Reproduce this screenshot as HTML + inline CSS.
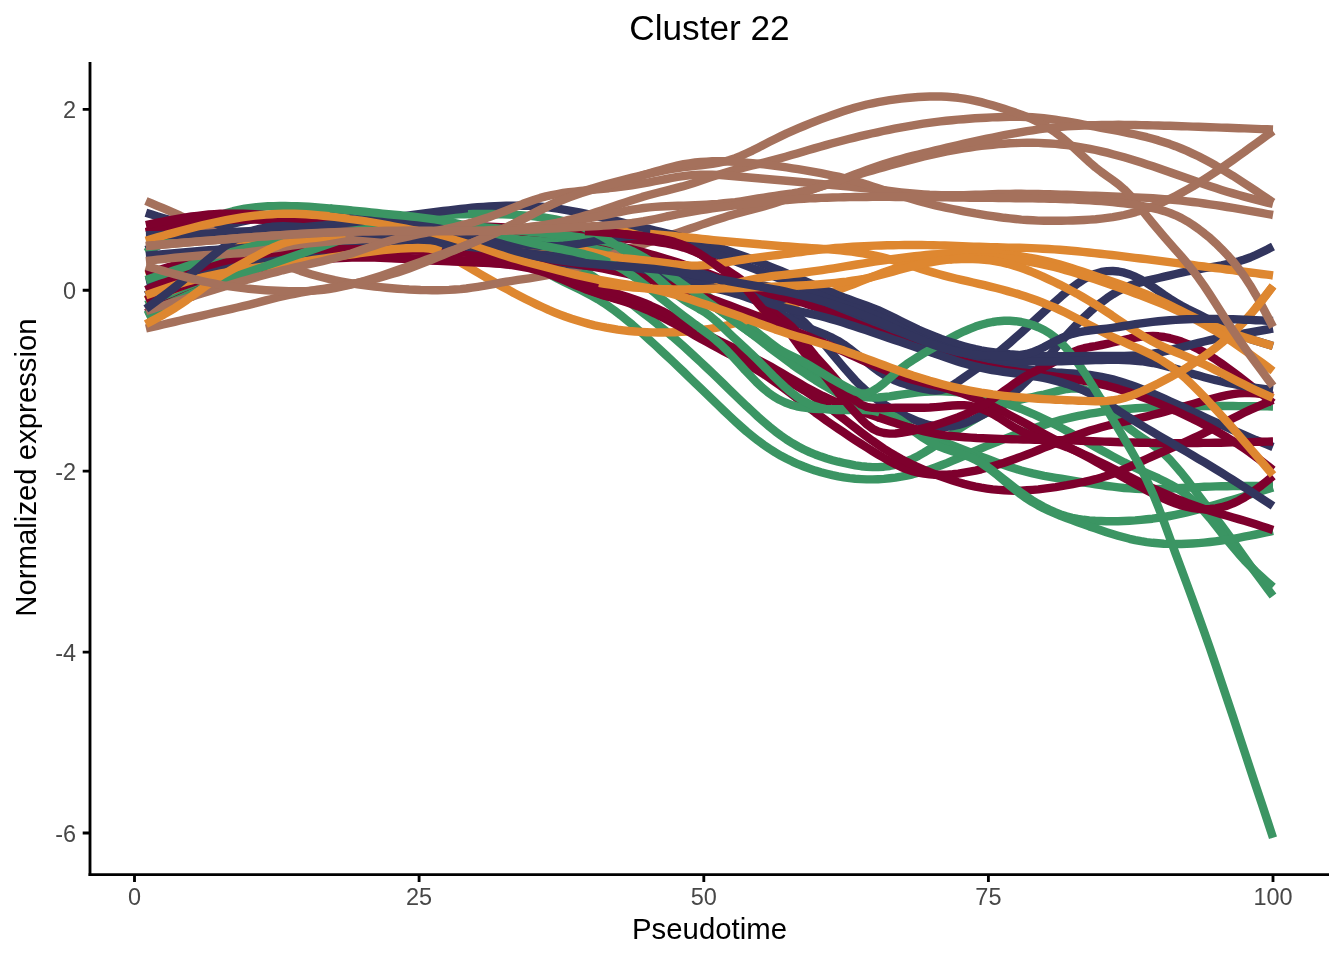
<!DOCTYPE html>
<html><head><meta charset="utf-8"><title>Cluster 22</title>
<style>
html,body{margin:0;padding:0;background:#fff;}
svg{display:block;}
text{font-family:"Liberation Sans",sans-serif;}
.tk{font-size:23.47px;fill:#474747;}
.ax{font-size:29.33px;fill:#000;}
.ln{fill:none;stroke-width:8.4;stroke-linejoin:round;stroke-linecap:butt;}
.b{stroke:#A5715C}.o{stroke:#DE8730}.n{stroke:#32355E}.c{stroke:#7E002D}.g{stroke:#3B9563}
</style></head><body>
<svg width="1344" height="960" viewBox="0 0 1344 960">
<rect width="1344" height="960" fill="#fff"/>
<text id="title" x="709.5" y="40" text-anchor="middle" font-size="35.2" fill="#000">Cluster 22</text>
<g id="curves">
<path class="ln g" d="M145.9 316.0 151.6 313.3 157.3 310.5 163.1 307.7 168.8 305.0 174.5 302.3 180.2 299.6 185.9 297.1 191.7 294.5 197.4 292.1 203.1 289.7 208.8 287.5 214.6 285.2 220.3 283.1 226.0 281.0 231.7 278.9 237.4 276.9 243.2 274.9 248.9 272.9 254.6 270.8 260.3 268.8 266.0 266.8 271.8 264.8 277.5 262.8 283.2 260.8 288.9 258.8 294.7 256.9 300.4 254.9 306.1 252.9 311.8 250.9 317.5 249.0 323.3 247.1 329.0 245.2 334.7 243.3 340.4 241.6 346.1 239.9 351.9 238.2 357.6 236.7 363.3 235.2 369.0 233.9 374.8 232.7 380.5 231.5 386.2 230.6 391.9 229.7 397.6 229.1 403.4 228.5 409.1 228.1 414.8 227.9 420.5 227.8 426.2 227.8 432.0 228.0 437.7 228.4 443.4 228.9 449.1 229.6 454.9 230.4 460.6 231.5 466.3 232.7 472.0 234.2 477.7 235.9 483.5 237.9 489.2 240.1 494.9 242.5 500.6 245.3 506.3 248.4 512.1 251.6 517.8 255.1 523.5 258.6 529.2 262.2 534.9 265.8 540.7 269.3 546.4 272.6 552.1 275.8 557.8 278.8 563.6 281.6 569.3 284.4 575.0 287.2 580.7 290.0 586.4 292.9 592.2 296.0 597.9 299.3 603.6 302.9 609.3 306.8 615.0 310.9 620.8 315.3 626.5 319.9 632.2 324.6 637.9 329.6 643.7 334.6 649.4 339.8 655.1 345.0 660.8 350.3 666.5 355.6 672.3 361.0 678.0 366.5 683.7 371.9 689.4 377.4 695.1 382.9 700.9 388.5 706.6 394.0 712.3 399.6 718.0 405.1 723.8 410.6 729.5 416.1 735.2 421.4 740.9 426.5 746.6 431.5 752.4 436.2 758.1 440.7 763.8 444.9 769.5 448.8 775.2 452.4 781.0 455.8 786.7 458.8 792.4 461.6 798.1 464.2 803.9 466.5 809.6 468.6 815.3 470.6 821.0 472.3 826.7 473.8 832.5 475.2 838.2 476.4 843.9 477.3 849.6 478.1 855.3 478.7 861.1 479.1 866.8 479.4 872.5 479.4 878.2 479.2 884.0 478.9 889.7 478.3 895.4 477.6 901.1 476.7 906.8 475.6 912.6 474.3 918.3 472.8 924.0 471.2 929.7 469.4 935.4 467.4 941.2 465.3 946.9 463.1 952.6 460.7 958.3 458.3 964.0 455.8 969.8 453.3 975.5 450.9 981.2 448.4 986.9 446.0 992.7 443.7 998.4 441.3 1004.1 439.1 1009.8 436.9 1015.5 434.7 1021.3 432.6 1027.0 430.6 1032.7 428.6 1038.4 426.7 1044.1 424.9 1049.9 423.1 1055.6 421.5 1061.3 419.9 1067.0 418.5 1072.8 417.1 1078.5 415.9 1084.2 414.8 1089.9 413.7 1095.6 412.8 1101.4 411.9 1107.1 411.1 1112.8 410.4 1118.5 409.8 1124.2 409.3 1130.0 408.8 1135.7 408.3 1141.4 407.9 1147.1 407.6 1152.9 407.2 1158.6 407.0 1164.3 406.7 1170.0 406.6 1175.7 406.4 1181.5 406.3 1187.2 406.1 1192.9 406.1 1198.6 406.0 1204.3 406.0 1210.1 406.0 1215.8 405.9 1221.5 406.0 1227.2 406.0 1233.0 406.0 1238.7 406.1 1244.4 406.1 1250.1 406.2 1255.8 406.3 1261.6 406.3 1267.3 406.4 1273.0 406.5"/>
<path class="ln g" d="M145.9 300.0 151.6 297.3 157.3 294.6 163.1 291.9 168.8 289.2 174.5 286.5 180.2 283.8 185.9 281.2 191.7 278.6 197.4 276.0 203.1 273.5 208.8 271.0 214.6 268.6 220.3 266.2 226.0 263.9 231.7 261.7 237.4 259.5 243.2 257.4 248.9 255.4 254.6 253.4 260.3 251.6 266.0 249.8 271.8 248.1 277.5 246.5 283.2 245.0 288.9 243.5 294.7 242.1 300.4 240.8 306.1 239.5 311.8 238.3 317.5 237.2 323.3 236.1 329.0 235.2 334.7 234.2 340.4 233.3 346.1 232.5 351.9 231.8 357.6 231.0 363.3 230.4 369.0 229.8 374.8 229.3 380.5 228.8 386.2 228.3 391.9 228.0 397.6 227.7 403.4 227.5 409.1 227.3 414.8 227.2 420.5 227.1 426.2 227.2 432.0 227.2 437.7 227.4 443.4 227.6 449.1 227.9 454.9 228.3 460.6 228.8 466.3 229.3 472.0 230.0 477.7 230.7 483.5 231.5 489.2 232.5 494.9 233.6 500.6 234.8 506.3 236.2 512.1 237.7 517.8 239.3 523.5 241.1 529.2 243.1 534.9 245.2 540.7 247.6 546.4 250.0 552.1 252.7 557.8 255.5 563.6 258.4 569.3 261.6 575.0 264.9 580.7 268.4 586.4 272.0 592.2 275.7 597.9 279.6 603.6 283.6 609.3 287.6 615.0 291.8 620.8 296.0 626.5 300.2 632.2 304.5 637.9 308.9 643.7 313.3 649.4 317.7 655.1 322.3 660.8 326.9 666.5 331.6 672.3 336.4 678.0 341.4 683.7 346.4 689.4 351.6 695.1 356.8 700.9 362.2 706.6 367.6 712.3 373.1 718.0 378.6 723.8 384.1 729.5 389.7 735.2 395.2 740.9 400.7 746.6 406.2 752.4 411.5 758.1 416.8 763.8 421.8 769.5 426.7 775.2 431.3 781.0 435.6 786.7 439.6 792.4 443.2 798.1 446.5 803.9 449.5 809.6 452.1 815.3 454.5 821.0 456.6 826.7 458.5 832.5 460.2 838.2 461.7 843.9 463.0 849.6 464.2 855.3 465.3 861.1 466.2 866.8 466.8 872.5 467.1 878.2 467.1 884.0 466.7 889.7 466.0 895.4 464.8 901.1 463.2 906.8 461.2 912.6 458.8 918.3 455.9 924.0 452.7 929.7 449.2 935.4 445.4 941.2 441.4 946.9 437.4 952.6 433.4 958.3 429.5 964.0 425.8 969.8 422.2 975.5 418.8 981.2 415.6 986.9 412.5 992.7 409.7 998.4 407.1 1004.1 404.8 1009.8 402.7 1015.5 401.0 1021.3 399.5 1027.0 398.2 1032.7 397.0 1038.4 395.7 1044.1 394.5 1049.9 393.0 1055.6 391.5 1061.3 390.1 1067.0 389.0 1072.8 388.4 1078.5 388.5 1084.2 389.5 1089.9 391.6 1095.6 395.0 1101.4 399.8 1107.1 405.7 1112.8 412.1 1118.5 418.4 1124.2 424.1 1130.0 429.0 1135.7 433.2 1141.4 437.1 1147.1 440.9 1152.9 444.8 1158.6 449.1 1164.3 454.1 1170.0 459.8 1175.7 466.2 1181.5 473.0 1187.2 480.2 1192.9 487.7 1198.6 495.2 1204.3 502.7 1210.1 510.1 1215.8 517.7 1221.5 525.3 1227.2 533.1 1233.0 541.0 1238.7 549.1 1244.4 557.2 1250.1 565.2 1255.8 573.0 1261.6 580.7 1267.3 588.4 1273.0 596.0"/>
<path class="ln n" d="M145.9 295.1 151.6 292.1 157.3 289.2 163.1 286.2 168.8 283.3 174.5 280.5 180.2 277.6 185.9 274.9 191.7 272.2 197.4 269.5 203.1 267.0 208.8 264.5 214.6 262.1 220.3 259.9 226.0 257.8 231.7 255.7 237.4 253.8 243.2 252.0 248.9 250.3 254.6 248.7 260.3 247.3 266.0 245.9 271.8 244.7 277.5 243.5 283.2 242.5 288.9 241.5 294.7 240.7 300.4 240.0 306.1 239.3 311.8 238.8 317.5 238.3 323.3 237.9 329.0 237.7 334.7 237.4 340.4 237.3 346.1 237.2 351.9 237.1 357.6 237.1 363.3 237.2 369.0 237.2 374.8 237.3 380.5 237.5 386.2 237.6 391.9 237.8 397.6 237.9 403.4 238.1 409.1 238.3 414.8 238.4 420.5 238.6 426.2 238.8 432.0 238.9 437.7 239.1 443.4 239.3 449.1 239.5 454.9 239.7 460.6 240.0 466.3 240.2 472.0 240.5 477.7 240.7 483.5 241.0 489.2 241.3 494.9 241.7 500.6 242.0 506.3 242.4 512.1 242.8 517.8 243.3 523.5 243.8 529.2 244.3 534.9 244.8 540.7 245.5 546.4 246.1 552.1 246.8 557.8 247.6 563.6 248.4 569.3 249.2 575.0 250.2 580.7 251.1 586.4 252.2 592.2 253.3 597.9 254.5 603.6 255.8 609.3 257.2 615.0 258.6 620.8 260.0 626.5 261.5 632.2 263.1 637.9 264.6 643.7 266.2 649.4 267.8 655.1 269.3 660.8 270.9 666.5 272.4 672.3 273.8 678.0 275.2 683.7 276.6 689.4 277.9 695.1 279.1 700.9 280.2 706.6 281.2 712.3 282.1 718.0 283.1 723.8 284.0 729.5 285.1 735.2 286.2 740.9 287.5 746.6 288.9 752.4 290.6 758.1 292.5 763.8 294.7 769.5 297.2 775.2 300.2 781.0 303.5 786.7 307.3 792.4 311.5 798.1 316.3 803.9 321.7 809.6 327.5 815.3 333.8 821.0 340.4 826.7 347.1 832.5 354.0 838.2 360.9 843.9 367.6 849.6 374.1 855.3 380.4 861.1 386.2 866.8 391.4 872.5 396.2 878.2 400.5 884.0 404.3 889.7 407.8 895.4 411.0 901.1 413.9 906.8 416.6 912.6 419.1 918.3 421.5 924.0 423.5 929.7 425.2 935.4 426.3 941.2 426.9 946.9 426.9 952.6 426.2 958.3 425.0 964.0 423.2 969.8 421.0 975.5 418.5 981.2 415.6 986.9 412.5 992.7 409.0 998.4 405.2 1004.1 401.0 1009.8 396.4 1015.5 391.4 1021.3 386.1 1027.0 380.5 1032.7 374.5 1038.4 368.2 1044.1 361.6 1049.9 354.9 1055.6 348.1 1061.3 341.4 1067.0 334.9 1072.8 328.6 1078.5 322.7 1084.2 317.1 1089.9 311.8 1095.6 306.9 1101.4 302.3 1107.1 298.1 1112.8 294.3 1118.5 290.9 1124.2 288.0 1130.0 285.6 1135.7 283.7 1141.4 282.1 1147.1 280.7 1152.9 279.3 1158.6 278.0 1164.3 276.6 1170.0 275.3 1175.7 274.0 1181.5 272.7 1187.2 271.5 1192.9 270.3 1198.6 269.3 1204.3 268.2 1210.1 267.3 1215.8 266.3 1221.5 265.3 1227.2 264.1 1233.0 262.8 1238.7 261.3 1244.4 259.5 1250.1 257.5 1255.8 255.0 1261.6 252.3 1267.3 249.5 1273.0 246.5"/>
<path class="ln g" d="M145.9 290.0 151.6 288.1 157.3 286.2 163.1 284.3 168.8 282.3 174.5 280.4 180.2 278.5 185.9 276.7 191.7 274.8 197.4 272.9 203.1 271.1 208.8 269.3 214.6 267.5 220.3 265.7 226.0 264.0 231.7 262.3 237.4 260.6 243.2 259.0 248.9 257.4 254.6 255.8 260.3 254.3 266.0 252.8 271.8 251.4 277.5 250.0 283.2 248.6 288.9 247.3 294.7 246.1 300.4 244.9 306.1 243.8 311.8 242.7 317.5 241.7 323.3 240.7 329.0 239.8 334.7 239.0 340.4 238.2 346.1 237.4 351.9 236.7 357.6 236.1 363.3 235.5 369.0 234.9 374.8 234.4 380.5 234.0 386.2 233.6 391.9 233.2 397.6 232.9 403.4 232.6 409.1 232.4 414.8 232.2 420.5 232.1 426.2 232.0 432.0 231.9 437.7 231.9 443.4 231.9 449.1 232.0 454.9 232.1 460.6 232.2 466.3 232.4 472.0 232.6 477.7 232.9 483.5 233.1 489.2 233.5 494.9 233.8 500.6 234.2 506.3 234.6 512.1 235.1 517.8 235.5 523.5 236.0 529.2 236.6 534.9 237.2 540.7 237.8 546.4 238.4 552.1 239.0 557.8 239.7 563.6 240.4 569.3 241.2 575.0 242.0 580.7 242.8 586.4 243.8 592.2 244.7 597.9 245.8 603.6 247.0 609.3 248.3 615.0 249.8 620.8 251.4 626.5 253.1 632.2 255.0 637.9 257.0 643.7 259.3 649.4 261.7 655.1 264.4 660.8 267.2 666.5 270.3 672.3 273.5 678.0 276.8 683.7 280.3 689.4 283.9 695.1 287.7 700.9 291.6 706.6 295.5 712.3 299.5 718.0 303.6 723.8 307.7 729.5 311.9 735.2 316.1 740.9 320.3 746.6 324.6 752.4 328.9 758.1 333.2 763.8 337.6 769.5 342.0 775.2 346.3 781.0 350.7 786.7 355.1 792.4 359.5 798.1 363.8 803.9 368.0 809.6 372.1 815.3 376.0 821.0 379.7 826.7 383.2 832.5 386.3 838.2 389.2 843.9 391.7 849.6 393.8 855.3 395.5 861.1 396.7 866.8 397.4 872.5 397.6 878.2 397.5 884.0 397.0 889.7 396.4 895.4 395.5 901.1 394.6 906.8 393.8 912.6 393.0 918.3 392.4 924.0 391.9 929.7 391.5 935.4 391.3 941.2 391.3 946.9 391.5 952.6 391.8 958.3 392.4 964.0 393.1 969.8 394.0 975.5 395.1 981.2 396.3 986.9 397.8 992.7 399.3 998.4 401.0 1004.1 402.8 1009.8 404.8 1015.5 406.8 1021.3 409.0 1027.0 411.4 1032.7 413.8 1038.4 416.4 1044.1 419.1 1049.9 421.9 1055.6 424.9 1061.3 427.9 1067.0 431.0 1072.8 434.2 1078.5 437.4 1084.2 440.6 1089.9 443.8 1095.6 447.0 1101.4 450.2 1107.1 453.3 1112.8 456.4 1118.5 459.4 1124.2 462.4 1130.0 465.2 1135.7 468.0 1141.4 470.6 1147.1 473.2 1152.9 475.8 1158.6 478.4 1164.3 481.2 1170.0 484.2 1175.7 487.5 1181.5 491.2 1187.2 495.4 1192.9 500.2 1198.6 505.6 1204.3 511.7 1210.1 518.4 1215.8 525.5 1221.5 532.8 1227.2 540.1 1233.0 547.2 1238.7 553.9 1244.4 560.2 1250.1 566.0 1255.8 571.6 1261.6 576.8 1267.3 582.0 1273.0 587.0"/>
<path class="ln g" d="M145.9 305.0 151.6 302.7 157.3 300.3 163.1 297.9 168.8 295.6 174.5 293.2 180.2 290.9 185.9 288.6 191.7 286.3 197.4 284.0 203.1 281.8 208.8 279.6 214.6 277.4 220.3 275.2 226.0 273.1 231.7 271.0 237.4 268.9 243.2 266.9 248.9 265.0 254.6 263.1 260.3 261.2 266.0 259.4 271.8 257.7 277.5 256.0 283.2 254.4 288.9 252.8 294.7 251.3 300.4 249.9 306.1 248.6 311.8 247.3 317.5 246.1 323.3 245.0 329.0 243.9 334.7 242.9 340.4 242.0 346.1 241.1 351.9 240.3 357.6 239.5 363.3 238.9 369.0 238.2 374.8 237.7 380.5 237.2 386.2 236.7 391.9 236.3 397.6 236.0 403.4 235.7 409.1 235.4 414.8 235.2 420.5 235.1 426.2 235.0 432.0 234.9 437.7 234.9 443.4 234.9 449.1 235.0 454.9 235.1 460.6 235.2 466.3 235.4 472.0 235.7 477.7 235.9 483.5 236.3 489.2 236.6 494.9 237.0 500.6 237.5 506.3 238.0 512.1 238.5 517.8 239.1 523.5 239.8 529.2 240.4 534.9 241.2 540.7 242.0 546.4 242.8 552.1 243.7 557.8 244.6 563.6 245.6 569.3 246.7 575.0 247.8 580.7 249.0 586.4 250.2 592.2 251.5 597.9 252.9 603.6 254.4 609.3 256.0 615.0 257.7 620.8 259.5 626.5 261.4 632.2 263.4 637.9 265.5 643.7 267.8 649.4 270.2 655.1 272.7 660.8 275.4 666.5 278.2 672.3 281.2 678.0 284.2 683.7 287.5 689.4 290.8 695.1 294.3 700.9 297.8 706.6 301.5 712.3 305.3 718.0 309.2 723.8 313.2 729.5 317.3 735.2 321.4 740.9 325.7 746.6 330.0 752.4 334.4 758.1 338.8 763.8 343.2 769.5 347.6 775.2 351.9 781.0 356.2 786.7 360.5 792.4 364.7 798.1 368.7 803.9 372.6 809.6 376.4 815.3 380.1 821.0 383.6 826.7 387.0 832.5 390.3 838.2 393.6 843.9 396.7 849.6 399.7 855.3 402.7 861.1 405.5 866.8 408.3 872.5 411.1 878.2 413.7 884.0 416.4 889.7 418.9 895.4 421.5 901.1 424.0 906.8 426.4 912.6 428.9 918.3 431.3 924.0 433.7 929.7 436.1 935.4 438.4 941.2 440.8 946.9 443.1 952.6 445.4 958.3 447.7 964.0 450.0 969.8 452.2 975.5 454.5 981.2 456.7 986.9 458.8 992.7 461.0 998.4 463.1 1004.1 465.1 1009.8 467.0 1015.5 468.8 1021.3 470.5 1027.0 472.0 1032.7 473.4 1038.4 474.6 1044.1 475.8 1049.9 476.8 1055.6 477.8 1061.3 478.7 1067.0 479.7 1072.8 480.6 1078.5 481.6 1084.2 482.5 1089.9 483.4 1095.6 484.3 1101.4 485.2 1107.1 486.0 1112.8 486.7 1118.5 487.4 1124.2 488.0 1130.0 488.4 1135.7 488.8 1141.4 489.0 1147.1 489.2 1152.9 489.1 1158.6 489.0 1164.3 488.9 1170.0 488.6 1175.7 488.3 1181.5 488.0 1187.2 487.7 1192.9 487.4 1198.6 487.1 1204.3 486.8 1210.1 486.6 1215.8 486.4 1221.5 486.3 1227.2 486.2 1233.0 486.1 1238.7 486.0 1244.4 486.0 1250.1 486.0 1255.8 486.0 1261.6 486.0 1267.3 486.0 1273.0 486.0"/>
<path class="ln n" d="M145.9 212.7 151.8 214.6 157.8 216.4 163.7 218.2 169.6 219.9 175.5 221.4 181.5 222.9 187.4 224.2 193.3 225.4 199.2 226.6 205.2 227.6 211.1 228.6 217.0 229.6 222.9 230.4 228.9 231.3 234.8 232.0 240.7 232.8 246.7 233.5 252.6 234.1 258.5 234.7 264.4 235.3 270.4 235.9 276.3 236.4 282.2 236.8 288.1 237.2 294.1 237.6 300.0 238.0"/>
<path class="ln n" d="M145.9 250.0 151.8 247.9 157.7 245.8 163.6 243.8 169.5 241.7 175.3 239.7 181.2 237.8 187.1 235.9 193.0 234.1 198.9 232.3 204.8 230.7 210.7 229.1 216.6 227.6 222.5 226.1 228.3 224.7 234.2 223.3 240.1 222.0 246.0 220.6 251.9 219.3 257.8 218.0 263.7 216.8 269.6 215.6 275.4 214.5 281.3 213.5 287.2 212.6 293.1 211.8 299.0 211.1 304.9 210.6 310.8 210.2 316.7 209.9 322.6 209.8 328.4 209.8 334.3 209.9 340.2 210.2 346.1 210.6 352.0 211.2"/>
<path class="ln o" d="M439.0 250.6 444.8 253.1 450.5 256.3 456.3 259.8 462.1 263.3 467.8 266.7 473.6 270.1 479.3 273.5 485.1 276.9 490.9 280.2 496.6 283.5 502.4 286.7 508.2 289.8 513.9 293.0 519.7 296.0 525.5 299.0 531.2 301.8 537.0 304.6 542.8 307.3 548.5 309.9 554.3 312.3 560.0 314.6 565.8 316.8 571.6 318.8 577.3 320.6 583.1 322.3 588.9 323.9 594.6 325.3 600.4 326.5 606.2 327.7 611.9 328.7 617.7 329.6 623.4 330.3 629.2 331.0 635.0 331.5 640.7 331.9 646.5 332.2 652.3 332.4 658.0 332.5 663.8 332.5 669.6 332.4 675.3 332.2 681.1 331.9 686.9 331.5 692.6 331.0 698.4 330.4 704.1 329.7 709.9 328.8 715.7 327.8 721.4 326.6 727.2 325.3 733.0 323.8 738.7 322.3 744.5 320.6 750.3 318.8 756.0 317.0 761.8 315.1 767.6 313.1 773.3 311.1 779.1 309.1 784.8 307.1 790.6 305.1 796.4 303.2 802.1 301.3 807.9 299.5 813.7 297.8 819.4 296.0 825.2 294.2 831.0 292.4 836.7 290.5 842.5 288.4 848.2 286.2 854.0 284.0 859.8 281.7 865.5 279.4 871.3 277.1 877.1 274.9 882.8 272.7 888.6 270.6 894.4 268.6 900.1 266.8 905.9 265.1 911.7 263.7 917.4 262.5 923.2 261.5 928.9 260.8 934.7 260.2 940.5 259.9 946.2 259.6 952.0 259.3"/>
<path class="ln b" d="M145.9 201.0 151.6 203.4 157.3 205.8 163.1 208.2 168.8 210.7 174.5 213.2 180.2 215.7 185.9 218.4 191.7 221.0 197.4 223.8 203.1 226.6 208.8 229.4 214.6 232.2 220.3 235.1 226.0 238.0 231.7 240.9 237.4 243.7 243.2 246.6 248.9 249.4 254.6 252.1 260.3 254.8 266.0 257.4 271.8 259.9 277.5 262.4 283.2 264.7 288.9 266.9 294.7 268.9 300.4 270.9 306.1 272.7 311.8 274.4 317.5 276.0 323.3 277.5 329.0 278.9 334.7 280.2 340.4 281.3 346.1 282.4 351.9 283.4 357.6 284.3 363.3 285.1 369.0 285.8 374.8 286.5 380.5 287.1 386.2 287.7 391.9 288.2 397.6 288.7 403.4 289.1 409.1 289.5 414.8 289.7 420.5 290.0 426.2 290.1 432.0 290.2 437.7 290.2 443.4 290.1 449.1 289.9 454.9 289.5 460.6 289.1 466.3 288.5 472.0 287.7 477.7 286.8 483.5 285.9 489.2 284.8 494.9 283.8 500.6 282.7 506.3 281.7 512.1 280.8 517.8 279.9 523.5 279.1 529.2 278.3 534.9 277.4 540.7 276.4 546.4 275.3 552.1 274.1 557.8 272.7 563.6 271.1 569.3 269.5 575.0 267.7 580.7 265.9 586.4 263.9 592.2 261.9 597.9 259.9 603.6 257.9 609.3 255.8 615.0 253.8 620.8 251.7 626.5 249.7 632.2 247.8 637.9 245.9 643.7 244.0 649.4 242.1 655.1 240.2 660.8 238.3 666.5 236.5 672.3 234.6 678.0 232.7 683.7 230.8 689.4 228.8 695.1 226.9 700.9 224.9 706.6 223.0 712.3 221.1 718.0 219.2 723.8 217.4 729.5 215.6 735.2 214.0 740.9 212.4 746.6 210.9 752.4 209.4 758.1 207.9 763.8 206.4 769.5 204.8 775.2 203.0 781.0 201.1 786.7 199.0 792.4 196.8 798.1 194.7 803.9 192.6 809.6 190.5 815.3 188.5 821.0 186.5 826.7 184.6 832.5 182.7 838.2 180.9 843.9 179.0 849.6 177.3 855.3 175.5 861.1 173.8 866.8 172.1 872.5 170.4 878.2 168.8 884.0 167.2 889.7 165.5 895.4 164.0 901.1 162.4 906.8 160.9 912.6 159.4 918.3 157.9 924.0 156.5 929.7 155.2 935.4 153.9 941.2 152.7 946.9 151.5 952.6 150.4 958.3 149.4 964.0 148.4 969.8 147.5 975.5 146.7 981.2 145.9 986.9 145.3 992.7 144.7 998.4 144.1 1004.1 143.7 1009.8 143.3 1015.5 143.1 1021.3 142.9 1027.0 142.8 1032.7 142.8 1038.4 142.9 1044.1 143.2 1049.9 143.5 1055.6 143.9 1061.3 144.5 1067.0 145.1 1072.8 145.9 1078.5 146.8 1084.2 147.8 1089.9 148.9 1095.6 150.0 1101.4 151.3 1107.1 152.7 1112.8 154.2 1118.5 155.7 1124.2 157.3 1130.0 159.0 1135.7 160.8 1141.4 162.6 1147.1 164.4 1152.9 166.3 1158.6 168.3 1164.3 170.3 1170.0 172.2 1175.7 174.3 1181.5 176.3 1187.2 178.3 1192.9 180.3 1198.6 182.3 1204.3 184.3 1210.1 186.2 1215.8 188.1 1221.5 189.9 1227.2 191.7 1233.0 193.4 1238.7 195.0 1244.4 196.6 1250.1 198.1 1255.8 199.6 1261.6 201.1 1267.3 202.6 1273.0 204.0"/>
<path class="ln o" d="M145.9 300.1 151.7 296.9 157.4 293.8 163.2 290.6 169.0 287.5 174.7 284.5 180.5 281.4 186.3 278.4 192.0 275.5 197.8 272.6 203.6 269.7 209.3 267.0 215.1 264.3 220.9 261.7 226.6 259.2 232.4 256.7 238.2 254.4 243.9 252.2 249.7 250.1 255.5 248.1 261.2 246.3 267.0 244.6 272.8 242.9 278.5 241.5 284.3 240.1 290.1 238.8 295.8 237.7 301.6 236.7 307.4 235.7 313.1 234.9 318.9 234.2 324.7 233.6 330.4 233.1 336.2 232.8 342.0 232.5 347.7 232.3 353.5 232.2 359.3 232.2 365.0 232.3 370.8 232.5 376.6 232.8 382.3 233.2 388.1 233.7 393.9 234.3 399.6 235.0 405.4 235.7 411.2 236.5 416.9 237.4 422.7 238.4 428.5 239.3 434.2 240.3 440.0 241.4 445.8 242.4 451.5 243.4 457.3 244.4 463.1 245.4 468.8 246.4 474.6 247.2 480.4 248.1 486.1 248.8 491.9 249.5 497.7 250.0 503.4 250.5 509.2 250.8 515.0 251.0 520.7 251.0 526.5 250.9 532.3 250.7 538.0 250.2 543.8 249.6 549.6 248.8 555.3 248.3 561.1 248.0 566.9 248.1 572.6 248.7 578.4 249.5 584.2 250.6 589.9 251.8 595.7 253.1 601.5 254.4 607.2 255.6 613.0 256.7"/>
<path class="ln o" d="M145.9 275.0 151.6 273.2 157.4 271.3 163.1 269.4 168.9 267.6 174.6 265.7 180.4 263.9 186.1 262.1 191.8 260.4 197.6 258.6 203.3 256.9 209.1 255.3 214.8 253.7 220.6 252.1 226.3 250.6 232.1 249.1 237.8 247.7 243.5 246.4 249.3 245.2 255.0 244.0 260.8 242.8 266.5 241.8 272.3 240.8 278.0 239.9 283.7 239.1 289.5 238.3 295.2 237.6 301.0 236.9 306.7 236.4 312.5 235.8 318.2 235.4 324.0 235.0 329.7 234.6 335.4 234.4 341.2 234.2 346.9 234.0 352.7 233.9 358.4 233.8 364.2 233.8 369.9 233.9 375.6 234.0 381.4 234.2 387.1 234.4 392.9 234.6 398.6 234.9 404.4 235.3 410.1 235.7 415.8 236.1 421.6 236.6 427.3 237.1 433.1 237.6 438.8 238.2 444.6 238.8 450.3 239.4 456.1 240.1 461.8 240.7 467.5 241.4 473.3 242.1 479.0 242.8 484.8 243.5 490.5 244.2 496.3 244.9 502.0 245.6 507.7 246.3 513.5 247.0 519.2 247.7 525.0 248.3 530.7 249.0 536.5 249.6 542.2 250.2 547.9 250.8 553.7 251.4 559.4 252.0 565.2 252.6 570.9 253.2 576.7 253.9 582.4 254.6 588.2 255.4 593.9 256.3 599.6 257.3 605.4 258.4 611.1 259.6 616.9 261.0 622.6 262.5 628.4 264.1 634.1 265.9 639.8 267.9 645.6 270.1 651.3 272.5 657.1 274.9 662.8 277.3 668.6 279.6 674.3 281.8 680.1 283.7 685.8 285.4 691.5 286.8 697.3 287.7 703.0 288.2 708.8 288.2 714.5 287.7 720.3 286.9 726.0 285.8"/>
<path class="ln o" d="M145.9 300.0 151.7 298.0 157.4 295.9 163.2 293.7 168.9 291.5 174.7 289.1 180.5 286.6 186.2 283.9 192.0 281.1 197.7 278.2 203.5 275.3 209.3 272.4 215.0 269.6 220.8 266.8 226.6 264.1 232.3 261.4 238.1 258.6 243.8 255.8 249.6 252.9 255.4 250.0 261.1 247.3 266.9 244.7 272.6 242.5 278.4 240.6 284.2 239.1 289.9 238.0 295.7 237.1 301.4 236.6 307.2 236.3 313.0 236.1 318.7 236.0 324.5 236.0 330.2 236.0 336.0 236.1 341.8 236.2 347.5 236.4 353.3 236.6 359.0 236.9 364.8 237.2 370.6 237.6 376.3 238.0 382.1 238.4 387.9 238.9 393.6 239.4 399.4 239.9 405.1 240.5 410.9 241.2 416.7 241.9 422.4 242.6 428.2 243.4 433.9 244.3 439.7 245.2 445.5 246.2 451.2 247.2 457.0 248.4 462.7 249.5 468.5 250.8 474.3 252.1 480.0 253.5 485.8 254.9 491.5 256.3 497.3 257.8 503.1 259.2 508.8 260.7 514.6 262.3 520.3 263.8 526.1 265.3 531.9 266.8 537.6 268.4 543.4 269.9 549.2 271.4 554.9 272.9 560.7 274.4 566.4 275.8 572.2 277.2 578.0 278.5 583.7 279.8 589.5 281.0 595.2 282.1 601.0 283.2"/>
<path class="ln o" d="M343.0 233.5 348.8 232.8 354.7 232.3 360.5 232.0 366.3 231.6 372.2 231.1 378.0 230.7 383.8 230.2 389.6 229.7 395.5 229.3 401.3 228.9 407.1 228.6 413.0 228.3 418.8 228.1 424.6 227.9 430.5 227.8 436.3 227.7 442.1 227.6 447.9 227.6 453.8 227.6 459.6 227.6 465.4 227.6 471.3 227.7 477.1 227.7 482.9 227.8 488.8 227.9 494.6 227.9 500.4 228.0 506.2 228.1 512.1 228.1 517.9 228.2 523.7 228.2 529.6 228.3 535.4 228.3 541.2 228.4 547.1 228.5 552.9 228.6 558.7 228.7 564.5 228.8 570.4 229.0 576.2 229.2 582.0 229.4 587.9 229.7 593.7 229.9 599.5 230.2 605.4 230.6 611.2 230.9 617.0 231.3 622.8 231.7 628.7 232.1 634.5 232.6 640.3 233.0 646.2 233.5 652.0 234.0"/>
<path class="ln c" d="M145.9 313.0 151.6 310.5 157.3 308.0 163.1 305.4 168.8 302.9 174.5 300.5 180.2 298.0 185.9 295.6 191.7 293.3 197.4 291.0 203.1 288.8 208.8 286.7 214.6 284.6 220.3 282.6 226.0 280.6 231.7 278.8 237.4 277.0 243.2 275.2 248.9 273.6 254.6 272.0 260.3 270.5 266.0 269.1 271.8 267.8 277.5 266.5 283.2 265.3 288.9 264.2 294.7 263.2 300.4 262.3 306.1 261.4 311.8 260.7 317.5 260.0 323.3 259.4 329.0 258.8 334.7 258.4 340.4 258.0 346.1 257.8 351.9 257.6 357.6 257.5 363.3 257.5 369.0 257.5 374.8 257.6 380.5 257.8 386.2 258.1 391.9 258.3 397.6 258.6 403.4 258.9 409.1 259.3 414.8 259.6 420.5 259.9 426.2 260.3 432.0 260.5 437.7 260.8 443.4 261.1 449.1 261.3 454.9 261.5 460.6 261.7 466.3 262.0 472.0 262.2 477.7 262.5 483.5 262.8 489.2 263.1 494.9 263.5 500.6 263.9 506.3 264.5 512.1 265.1 517.8 266.0 523.5 267.0 529.2 268.1 534.9 269.6 540.7 271.2 546.4 273.1 552.1 275.2 557.8 277.5 563.6 279.9 569.3 282.3 575.0 284.8 580.7 287.2 586.4 289.5 592.2 291.6 597.9 293.6 603.6 295.4 609.3 297.1 615.0 298.8 620.8 300.5 626.5 302.3 632.2 304.2 637.9 306.2 643.7 308.5 649.4 310.9 655.1 313.6 660.8 316.5 666.5 319.4 672.3 322.5 678.0 325.7 683.7 328.9 689.4 332.2 695.1 335.5 700.9 338.7 706.6 341.9 712.3 345.0 718.0 348.1 723.8 351.2 729.5 354.2 735.2 357.4 740.9 360.5 746.6 363.8 752.4 367.1 758.1 370.6 763.8 374.2 769.5 378.0 775.2 382.0 781.0 386.1 786.7 390.4 792.4 394.8 798.1 399.3 803.9 403.7 809.6 408.1 815.3 412.5 821.0 416.7 826.7 420.9 832.5 424.9 838.2 428.8 843.9 432.6 849.6 436.4 855.3 440.2 861.1 443.9 866.8 447.5 872.5 451.1 878.2 454.6 884.0 458.0 889.7 461.3 895.4 464.3 901.1 467.0 906.8 469.3 912.6 471.2 918.3 472.7 924.0 473.7 929.7 474.4 935.4 474.8 941.2 474.8 946.9 474.6 952.6 474.2 958.3 473.6 964.0 472.7 969.8 471.7 975.5 470.6 981.2 469.3 986.9 467.8 992.7 466.2 998.4 464.5 1004.1 462.7 1009.8 460.7 1015.5 458.7 1021.3 456.6 1027.0 454.5 1032.7 452.3 1038.4 450.0 1044.1 447.7 1049.9 445.5 1055.6 443.2 1061.3 440.9 1067.0 438.7 1072.8 436.6 1078.5 434.5 1084.2 432.5 1089.9 430.6 1095.6 428.9 1101.4 427.3 1107.1 425.8 1112.8 424.4 1118.5 423.0 1124.2 421.7 1130.0 420.3 1135.7 419.0 1141.4 417.7 1147.1 416.3 1152.9 414.8 1158.6 413.4 1164.3 411.9 1170.0 410.3 1175.7 408.8 1181.5 407.2 1187.2 405.6 1192.9 404.0 1198.6 402.4 1204.3 400.8 1210.1 399.2 1215.8 397.7 1221.5 396.3 1227.2 395.1 1233.0 394.1 1238.7 393.4 1244.4 393.0 1250.1 393.0 1255.8 393.4 1261.6 394.1 1267.3 395.0 1273.0 396.0"/>
<path class="ln c" d="M145.9 300.0 151.6 297.8 157.3 295.5 163.1 293.3 168.8 291.1 174.5 288.9 180.2 286.8 185.9 284.8 191.7 282.8 197.4 280.8 203.1 279.0 208.8 277.3 214.6 275.6 220.3 274.0 226.0 272.5 231.7 271.1 237.4 269.8 243.2 268.5 248.9 267.3 254.6 266.2 260.3 265.2 266.0 264.2 271.8 263.2 277.5 262.4 283.2 261.6 288.9 260.8 294.7 260.1 300.4 259.5 306.1 258.9 311.8 258.4 317.5 257.9 323.3 257.5 329.0 257.2 334.7 256.9 340.4 256.7 346.1 256.6 351.9 256.5 357.6 256.5 363.3 256.6 369.0 256.7 374.8 256.9 380.5 257.1 386.2 257.4 391.9 257.7 397.6 258.0 403.4 258.4 409.1 258.7 414.8 259.1 420.5 259.4 426.2 259.7 432.0 260.1 437.7 260.3 443.4 260.6 449.1 260.8 454.9 261.1 460.6 261.3 466.3 261.6 472.0 261.8 477.7 262.0 483.5 262.3 489.2 262.6 494.9 262.9 500.6 263.3 506.3 263.8 512.1 264.4 517.8 265.1 523.5 266.0 529.2 267.2 534.9 268.6 540.7 270.2 546.4 272.1 552.1 274.3 557.8 276.7 563.6 279.1 569.3 281.6 575.0 284.1 580.7 286.6 586.4 289.0 592.2 291.1 597.9 293.1 603.6 294.9 609.3 296.6 615.0 298.2 620.8 299.8 626.5 301.5 632.2 303.3 637.9 305.2 643.7 307.4 649.4 309.8 655.1 312.3 660.8 315.1 666.5 317.9 672.3 320.9 678.0 324.0 683.7 327.1 689.4 330.2 695.1 333.4 700.9 336.5 706.6 339.6 712.3 342.6 718.0 345.5 723.8 348.4 729.5 351.3 735.2 354.1 740.9 357.0 746.6 359.8 752.4 362.6 758.1 365.5 763.8 368.3 769.5 371.2 775.2 374.2 781.0 377.2 786.7 380.3 792.4 383.6 798.1 386.9 803.9 390.3 809.6 394.0 815.3 397.7 821.0 401.7 826.7 405.9 832.5 410.2 838.2 414.6 843.9 419.0 849.6 423.5 855.3 427.9 861.1 432.3 866.8 436.6 872.5 440.8 878.2 444.8 884.0 448.7 889.7 452.3 895.4 455.7 901.1 458.9 906.8 461.9 912.6 464.7 918.3 467.3 924.0 469.8 929.7 472.2 935.4 474.5 941.2 476.6 946.9 478.6 952.6 480.5 958.3 482.3 964.0 483.9 969.8 485.3 975.5 486.6 981.2 487.7 986.9 488.6 992.7 489.4 998.4 489.9 1004.1 490.3 1009.8 490.6 1015.5 490.7 1021.3 490.6 1027.0 490.3 1032.7 489.9 1038.4 489.4 1044.1 488.7 1049.9 487.9 1055.6 487.1 1061.3 486.1 1067.0 485.2 1072.8 484.1 1078.5 483.0 1084.2 481.9 1089.9 480.6 1095.6 479.2 1101.4 477.6 1107.1 475.8 1112.8 473.8 1118.5 471.6 1124.2 469.2 1130.0 466.6 1135.7 464.0 1141.4 461.4 1147.1 458.8 1152.9 456.2 1158.6 453.7 1164.3 451.2 1170.0 448.7 1175.7 446.2 1181.5 443.6 1187.2 441.0 1192.9 438.4 1198.6 435.7 1204.3 432.9 1210.1 430.0 1215.8 427.1 1221.5 424.1 1227.2 421.2 1233.0 418.3 1238.7 415.4 1244.4 412.6 1250.1 409.9 1255.8 407.4 1261.6 404.9 1267.3 402.4 1273.0 400.0"/>
<path class="ln c" d="M145.9 274.0 151.6 272.3 157.4 270.5 163.1 268.8 168.8 267.1 174.6 265.5 180.3 263.9 186.0 262.3 191.8 260.9 197.5 259.5 203.3 258.2 209.0 257.0 214.7 255.9 220.5 254.9 226.2 254.1 231.9 253.4 237.7 252.8 243.4 252.3 249.1 251.9 254.9 251.6 260.6 251.4 266.3 251.3 272.1 251.3 277.8 251.3 283.5 251.4 289.3 251.6 295.0 251.8 300.7 252.0 306.5 252.3 312.2 252.6 318.0 253.0 323.7 253.4 329.4 253.7 335.2 254.1 340.9 254.5 346.6 254.9 352.4 255.3 358.1 255.6 363.8 256.0 369.6 256.3 375.3 256.6 381.0 256.9 386.8 257.1 392.5 257.4 398.2 257.7 404.0 257.9 409.7 258.1 415.5 258.4 421.2 258.6 426.9 258.8 432.7 259.1 438.4 259.3 444.1 259.5 449.9 259.8 455.6 260.0 461.3 260.3 467.1 260.5 472.8 260.8 478.5 261.0 484.3 261.3 490.0 261.6 495.7 262.0 501.5 262.3 507.2 262.8 513.0 263.3 518.7 264.0 524.4 264.8 530.2 265.8 535.9 267.0 541.6 268.4 547.4 270.1 553.1 271.9 558.8 273.9 564.6 276.0 570.3 278.1 576.0 280.3 581.8 282.4 587.5 284.5 593.2 286.5 599.0 288.3 604.7 290.1 610.4 291.7 616.2 293.4 621.9 295.2 627.7 297.0 633.4 298.9 639.1 301.0 644.9 303.2 650.6 305.7 656.3 308.4 662.1 311.1 667.8 314.0 673.5 317.0 679.3 320.0 685.0 323.1 690.7 326.2 696.5 329.3 702.2 332.3 707.9 335.3 713.7 338.1 719.4 341.0 725.2 343.7 730.9 346.5 736.6 349.3 742.4 352.1 748.1 354.9 753.8 357.7 759.6 360.7 765.3 363.7 771.0 366.8 776.8 370.1 782.5 373.4 788.2 376.8 794.0 380.2 799.7 383.5 805.4 386.8 811.2 390.0 816.9 393.0 822.6 395.9 828.4 398.6 834.1 401.1 839.9 403.4 845.6 405.7 851.3 407.9 857.1 409.9 862.8 412.0 868.5 414.0 874.3 416.0 880.0 418.0"/>
<path class="ln g" d="M145.9 252.6 151.7 249.2 157.5 245.8 163.3 242.5 169.2 239.2 175.0 235.9 180.8 232.8 186.6 229.8 192.4 226.9 198.2 224.1 204.1 221.5 209.9 219.0 215.7 216.7 221.5 214.7 227.3 212.8 233.1 211.2 238.9 209.9 244.8 208.7 250.6 207.9 256.4 207.2 262.2 206.7 268.0 206.3 273.8 206.1 279.7 206.0 285.5 206.0 291.3 206.1 297.1 206.3 302.9 206.5 308.7 206.8 314.6 207.2 320.4 207.6 326.2 208.1 332.0 208.6"/>
<path class="ln g" d="M699.0 327.3 704.7 331.5 710.5 335.8 716.2 340.5 722.0 345.7 727.7 351.3 733.4 357.4 739.2 363.8 744.9 370.1 750.7 376.2 756.4 382.1 762.1 387.5 767.9 392.3 773.6 396.4 779.4 399.8 785.1 402.5 790.8 404.7 796.6 406.3 802.3 407.4 808.1 408.2 813.8 408.7 819.5 409.0 825.3 409.1 831.0 409.2 836.8 409.2 842.5 409.1 848.2 409.0 854.0 408.9 859.7 408.9 865.5 409.1 871.2 409.6 876.9 410.5 882.7 411.9 888.4 413.9 894.2 416.5 899.9 419.7 905.6 423.6 911.4 427.8 917.1 432.0 922.9 436.0 928.6 439.4 934.3 442.1 940.1 444.0 945.8 445.5 951.6 447.1 957.3 449.0 963.0 451.4 968.8 454.3 974.5 457.7 980.3 461.4 986.0 465.5 991.7 469.8 997.5 474.3 1003.2 478.8 1009.0 483.4 1014.7 487.8 1020.4 492.1 1026.2 496.2 1031.9 500.0 1037.7 503.5 1043.4 506.7 1049.1 509.6 1054.9 512.2 1060.6 514.4 1066.4 516.3 1072.1 517.8 1077.8 518.9 1083.6 519.8 1089.3 520.4 1095.1 520.8 1100.8 521.0 1106.5 521.2 1112.3 521.2 1118.0 521.2 1123.8 521.0 1129.5 520.7 1135.2 520.4 1141.0 519.9 1146.7 519.3 1152.5 518.7 1158.2 517.9 1163.9 517.0 1169.7 516.0 1175.4 514.9 1181.2 513.7 1186.9 512.4 1192.6 511.0 1198.4 509.5 1204.1 508.0 1209.9 506.4 1215.6 504.7 1221.3 503.1 1227.1 501.4 1232.8 499.7 1238.6 498.0 1244.3 496.2 1250.0 494.5 1255.8 492.8 1261.5 491.0 1267.3 489.3 1273.0 487.5"/>
<path class="ln g" d="M699.0 308.6 704.7 312.2 710.5 316.4 716.2 321.2 722.0 326.5 727.7 331.8 733.4 337.2 739.2 342.5 744.9 347.8 750.7 353.2 756.4 358.8 762.1 364.6 767.9 370.4 773.6 376.2 779.4 381.8 785.1 387.1 790.8 392.0 796.6 396.4 802.3 400.2 808.1 403.3 813.8 405.8 819.5 407.6 825.3 408.8 831.0 409.6 836.8 410.0 842.5 410.1 848.2 410.0 854.0 409.9 859.7 409.8 865.5 410.0 871.2 410.5 876.9 411.6 882.7 413.3 888.4 415.6 894.2 418.4 899.9 421.8 905.6 425.6 911.4 429.6 917.1 433.7 922.9 437.7 928.6 441.3 934.3 444.3 940.1 446.9 945.8 449.0 951.6 450.9 957.3 452.7 963.0 454.6 968.8 456.8 974.5 459.4 980.3 462.6 986.0 466.4 991.7 470.7 997.5 475.3 1003.2 480.1 1009.0 484.9 1014.7 489.6 1020.4 494.1 1026.2 498.2 1031.9 501.9 1037.7 505.2 1043.4 508.2 1049.1 510.9 1054.9 513.4 1060.6 515.8 1066.4 518.0 1072.1 520.2 1077.8 522.3 1083.6 524.3 1089.3 526.4 1095.1 528.3 1100.8 530.3 1106.5 532.2 1112.3 534.0 1118.0 535.7 1123.8 537.3 1129.5 538.8 1135.2 540.1 1141.0 541.2 1146.7 542.1 1152.5 542.8 1158.2 543.3 1163.9 543.7 1169.7 543.9 1175.4 544.0 1181.2 544.0 1186.9 543.8 1192.6 543.5 1198.4 543.1 1204.1 542.6 1209.9 542.0 1215.6 541.3 1221.3 540.5 1227.1 539.7 1232.8 538.8 1238.6 537.8 1244.3 536.7 1250.0 535.6 1255.8 534.5 1261.5 533.4 1267.3 532.2 1273.0 531.0"/>
<path class="ln n" d="M145.9 255.6 151.6 255.1 157.3 254.6 163.1 254.1 168.8 253.6 174.5 253.1 180.2 252.6 185.9 252.1 191.7 251.7 197.4 251.2 203.1 250.7 208.8 250.3 214.6 249.9 220.3 249.5 226.0 249.1 231.7 248.7 237.4 248.4 243.2 248.0 248.9 247.7 254.6 247.4 260.3 247.2 266.0 246.9 271.8 246.7 277.5 246.5 283.2 246.3 288.9 246.2 294.7 246.1 300.4 246.0 306.1 245.9 311.8 245.9 317.5 245.9 323.3 245.9 329.0 246.0 334.7 246.0 340.4 246.1 346.1 246.2 351.9 246.4 357.6 246.5 363.3 246.7 369.0 246.9 374.8 247.0 380.5 247.2 386.2 247.5 391.9 247.7 397.6 247.9 403.4 248.1 409.1 248.4 414.8 248.6 420.5 248.9 426.2 249.2 432.0 249.5 437.7 249.8 443.4 250.1 449.1 250.5 454.9 250.8 460.6 251.2 466.3 251.7 472.0 252.2 477.7 252.7 483.5 253.2 489.2 253.8 494.9 254.4 500.6 255.1 506.3 255.8 512.1 256.5 517.8 257.3 523.5 258.1 529.2 258.9 534.9 259.7 540.7 260.5 546.4 261.3 552.1 262.0 557.8 262.7 563.6 263.4 569.3 264.0 575.0 264.6 580.7 265.2 586.4 265.7 592.2 266.2 597.9 266.7 603.6 267.1 609.3 267.6 615.0 268.0 620.8 268.4 626.5 268.8 632.2 269.2 637.9 269.7 643.7 270.1 649.4 270.5 655.1 271.0 660.8 271.5 666.5 272.0 672.3 272.5 678.0 273.1 683.7 273.6 689.4 274.3 695.1 274.9 700.9 275.6 706.6 276.3 712.3 277.1 718.0 277.9 723.8 278.7 729.5 279.6 735.2 280.5 740.9 281.4 746.6 282.4 752.4 283.4 758.1 284.5 763.8 285.6 769.5 286.8 775.2 288.1 781.0 289.5 786.7 291.0 792.4 292.7 798.1 294.4 803.9 296.3 809.6 298.3 815.3 300.4 821.0 302.5 826.7 304.7 832.5 307.0 838.2 309.3 843.9 311.5 849.6 313.8 855.3 316.0 861.1 318.3 866.8 320.5 872.5 322.6 878.2 324.8 884.0 326.9 889.7 329.1 895.4 331.2 901.1 333.2 906.8 335.3 912.6 337.3 918.3 339.3 924.0 341.3 929.7 343.2 935.4 345.1 941.2 347.0 946.9 348.9 952.6 350.7 958.3 352.4 964.0 354.1 969.8 355.8 975.5 357.4 981.2 359.0 986.9 360.6 992.7 362.0 998.4 363.4 1004.1 364.8 1009.8 366.0 1015.5 367.2 1021.3 368.3 1027.0 369.2 1032.7 370.1 1038.4 370.9 1044.1 371.5 1049.9 372.0 1055.6 372.5 1061.3 372.8 1067.0 373.1 1072.8 373.5 1078.5 373.9 1084.2 374.4 1089.9 375.0 1095.6 375.8 1101.4 376.8 1107.1 378.0 1112.8 379.4 1118.5 381.0 1124.2 382.8 1130.0 384.7 1135.7 386.8 1141.4 389.0 1147.1 391.3 1152.9 393.7 1158.6 396.1 1164.3 398.6 1170.0 401.2 1175.7 403.8 1181.5 406.4 1187.2 409.0 1192.9 411.7 1198.6 414.4 1204.3 417.0 1210.1 419.7 1215.8 422.3 1221.5 424.9 1227.2 427.5 1233.0 430.1 1238.7 432.6 1244.4 435.1 1250.1 437.5 1255.8 440.0 1261.6 442.3 1267.3 444.7 1273.0 447.0"/>
<path class="ln n" d="M145.9 281.4 151.6 280.2 157.3 278.9 163.1 277.7 168.8 276.4 174.5 275.2 180.2 274.0 185.9 272.8 191.7 271.7 197.4 270.5 203.1 269.4 208.8 268.3 214.6 267.3 220.3 266.2 226.0 265.3 231.7 264.3 237.4 263.4 243.2 262.5 248.9 261.7 254.6 260.9 260.3 260.2 266.0 259.5 271.8 258.9 277.5 258.2 283.2 257.6 288.9 257.1 294.7 256.5 300.4 255.9 306.1 255.3 311.8 254.6 317.5 254.0 323.3 253.3 329.0 252.5 334.7 251.7 340.4 250.8 346.1 249.9 351.9 249.0 357.6 248.0 363.3 247.1 369.0 246.2 374.8 245.4 380.5 244.6 386.2 243.8 391.9 243.2 397.6 242.6 403.4 242.2 409.1 241.8 414.8 241.6 420.5 241.5 426.2 241.5 432.0 241.6 437.7 241.9 443.4 242.3 449.1 242.8 454.9 243.4 460.6 244.1 466.3 244.9 472.0 245.8 477.7 246.6 483.5 247.5 489.2 248.4 494.9 249.3 500.6 250.1 506.3 250.9 512.1 251.6 517.8 252.2 523.5 252.9 529.2 253.5 534.9 254.1 540.7 254.7 546.4 255.3 552.1 255.8 557.8 256.4 563.6 257.1 569.3 257.7 575.0 258.4 580.7 259.1 586.4 259.9 592.2 260.7 597.9 261.6 603.6 262.6 609.3 263.7 615.0 264.8 620.8 266.0 626.5 267.2 632.2 268.5 637.9 269.8 643.7 271.2 649.4 272.6 655.1 274.0 660.8 275.4 666.5 276.9 672.3 278.3 678.0 279.7 683.7 281.1 689.4 282.5 695.1 283.9 700.9 285.2 706.6 286.5 712.3 287.8 718.0 289.1 723.8 290.5 729.5 292.0 735.2 293.6 740.9 295.3 746.6 297.2 752.4 299.4 758.1 301.7 763.8 304.4 769.5 307.4 775.2 310.5 781.0 313.8 786.7 317.2 792.4 320.4 798.1 323.4 803.9 326.0 809.6 328.4 815.3 330.7 821.0 332.9 826.7 335.2 832.5 337.9 838.2 340.9 843.9 344.5 849.6 348.6 855.3 353.0 861.1 357.6 866.8 362.2 872.5 366.7 878.2 371.0 884.0 374.8 889.7 378.0 895.4 380.6 901.1 382.8 906.8 384.6 912.6 386.2 918.3 387.6 924.0 388.9 929.7 390.0 935.4 390.5 941.2 390.0 946.9 388.3 952.6 385.2 958.3 381.5 964.0 377.5 969.8 373.6 975.5 369.6 981.2 365.4 986.9 361.2 992.7 356.8 998.4 352.3 1004.1 347.6 1009.8 342.7 1015.5 337.7 1021.3 332.6 1027.0 327.4 1032.7 322.1 1038.4 316.8 1044.1 311.6 1049.9 306.4 1055.6 301.3 1061.3 296.3 1067.0 291.6 1072.8 287.1 1078.5 282.9 1084.2 279.1 1089.9 276.0 1095.6 273.7 1101.4 272.0 1107.1 271.1 1112.8 271.0 1118.5 271.5 1124.2 272.7 1130.0 274.5 1135.7 276.9 1141.4 279.8 1147.1 283.2 1152.9 287.0 1158.6 291.0 1164.3 295.0 1170.0 298.8 1175.7 302.4 1181.5 305.7 1187.2 308.7 1192.9 311.5 1198.6 314.3 1204.3 317.2 1210.1 320.2 1215.8 323.2 1221.5 326.2 1227.2 329.1 1233.0 331.9 1238.7 334.4 1244.4 336.8 1250.1 338.9 1255.8 340.8 1261.6 342.6 1267.3 344.3 1273.0 346.0"/>
<path class="ln c" d="M878.0 417.3 883.8 419.3 889.6 421.2 895.4 423.1 901.2 425.0 907.0 426.8 912.9 428.4 918.7 430.0 924.5 431.4 930.3 432.7 936.1 433.8 941.9 434.8 947.7 435.6 953.5 436.2 959.3 436.8 965.1 437.2 970.9 437.6 976.8 438.0 982.6 438.2 988.4 438.5 994.2 438.7 1000.0 438.9 1005.8 439.1 1011.6 439.2 1017.4 439.4 1023.2 439.5 1029.0 439.6 1034.8 439.7 1040.6 439.8 1046.5 439.9 1052.3 440.0 1058.1 440.1 1063.9 440.3 1069.7 440.4 1075.5 440.6 1081.3 440.8 1087.1 441.0 1092.9 441.2 1098.7 441.4 1104.5 441.6 1110.4 441.8 1116.2 442.0 1122.0 442.2 1127.8 442.4 1133.6 442.5 1139.4 442.7 1145.2 442.8 1151.0 442.9 1156.8 443.0 1162.6 443.0 1168.4 443.1 1174.2 443.1 1180.1 443.1 1185.9 443.1 1191.7 443.0 1197.5 443.0 1203.3 442.9 1209.1 442.9 1214.9 442.8 1220.7 442.7 1226.5 442.6 1232.3 442.4 1238.1 442.3 1244.0 442.2 1249.8 442.1 1255.6 441.9 1261.4 441.8 1267.2 441.6 1273.0 441.5"/>
<path class="ln c" d="M145.9 232.0 151.6 230.8 157.3 229.5 163.1 228.3 168.8 227.1 174.5 226.0 180.2 224.9 185.9 223.9 191.7 222.9 197.4 222.1 203.1 221.3 208.8 220.7 214.6 220.1 220.3 219.7 226.0 219.4 231.7 219.2 237.4 219.2 243.2 219.2 248.9 219.3 254.6 219.4 260.3 219.6 266.0 219.9 271.8 220.2 277.5 220.6 283.2 220.9 288.9 221.3 294.7 221.7 300.4 222.0 306.1 222.4 311.8 222.7 317.5 223.0 323.3 223.2 329.0 223.5 334.7 223.7 340.4 223.9 346.1 224.2 351.9 224.4 357.6 224.6 363.3 224.8 369.0 225.0 374.8 225.2 380.5 225.3 386.2 225.5 391.9 225.7 397.6 225.9 403.4 226.1 409.1 226.3 414.8 226.5 420.5 226.8 426.2 227.0 432.0 227.2 437.7 227.5 443.4 227.7 449.1 227.9 454.9 228.2 460.6 228.4 466.3 228.6 472.0 228.9 477.7 229.1 483.5 229.3 489.2 229.6 494.9 229.8 500.6 230.0 506.3 230.2 512.1 230.5 517.8 230.7 523.5 231.0 529.2 231.3 534.9 231.6 540.7 232.1 546.4 232.5 552.1 233.1 557.8 233.7 563.6 234.5 569.3 235.3 575.0 236.2 580.7 237.3 586.4 238.4 592.2 239.5 597.9 240.8 603.6 242.1 609.3 243.4 615.0 244.8 620.8 246.3 626.5 247.8 632.2 249.3 637.9 250.8 643.7 252.4 649.4 254.0 655.1 255.6 660.8 257.3 666.5 259.0 672.3 260.8 678.0 262.6 683.7 264.5 689.4 266.5 695.1 268.6 700.9 270.7 706.6 273.0 712.3 275.2 718.0 277.5 723.8 279.7 729.5 281.9 735.2 284.0 740.9 286.0 746.6 287.9 752.4 289.6 758.1 291.1 763.8 292.6 769.5 294.0 775.2 295.3 781.0 296.7 786.7 298.1 792.4 299.6 798.1 301.2 803.9 303.0 809.6 304.9 815.3 306.9 821.0 309.1 826.7 311.3 832.5 313.6 838.2 316.0 843.9 318.3 849.6 320.6 855.3 323.0 861.1 325.3 866.8 327.6 872.5 330.0 878.2 332.2 884.0 334.5 889.7 336.8 895.4 339.0 901.1 341.1 906.8 343.3 912.6 345.4 918.3 347.4 924.0 349.4 929.7 351.4 935.4 353.2 941.2 355.0 946.9 356.8 952.6 358.5 958.3 360.1 964.0 361.6 969.8 363.0 975.5 364.4 981.2 365.6 986.9 366.8 992.7 367.8 998.4 368.8 1004.1 369.8 1009.8 370.6 1015.5 371.5 1021.3 372.3 1027.0 373.0 1032.7 373.8 1038.4 374.5 1044.1 375.2 1049.9 375.9 1055.6 376.7 1061.3 377.4 1067.0 378.2 1072.8 379.0 1078.5 379.9 1084.2 380.9 1089.9 381.9 1095.6 383.0 1101.4 384.3 1107.1 385.7 1112.8 387.3 1118.5 388.9 1124.2 390.7 1130.0 392.6 1135.7 394.6 1141.4 396.7 1147.1 398.9 1152.9 401.1 1158.6 403.4 1164.3 405.8 1170.0 408.3 1175.7 410.8 1181.5 413.5 1187.2 416.2 1192.9 418.9 1198.6 421.8 1204.3 424.7 1210.1 427.8 1215.8 430.9 1221.5 434.2 1227.2 437.5 1233.0 441.1 1238.7 444.7 1244.4 448.6 1250.1 452.6 1255.8 456.8 1261.6 461.1 1267.3 465.5 1273.0 470.0"/>
<path class="ln c" d="M145.9 290.0 151.6 287.5 157.3 285.0 163.1 282.5 168.8 280.0 174.5 277.6 180.2 275.3 185.9 273.1 191.7 270.9 197.4 268.9 203.1 267.0 208.8 265.2 214.6 263.6 220.3 262.0 226.0 260.6 231.7 259.3 237.4 258.1 243.2 257.0 248.9 256.0 254.6 255.1 260.3 254.3 266.0 253.5 271.8 252.9 277.5 252.2 283.2 251.7 288.9 251.2 294.7 250.8 300.4 250.4 306.1 250.1 311.8 249.8 317.5 249.6 323.3 249.4 329.0 249.3 334.7 249.2 340.4 249.1 346.1 249.1 351.9 249.1 357.6 249.1 363.3 249.2 369.0 249.3 374.8 249.4 380.5 249.5 386.2 249.6 391.9 249.8 397.6 249.9 403.4 250.1 409.1 250.3 414.8 250.5 420.5 250.7 426.2 250.9 432.0 251.1 437.7 251.3 443.4 251.6 449.1 251.8 454.9 252.1 460.6 252.4 466.3 252.7 472.0 253.1 477.7 253.4 483.5 253.8 489.2 254.2 494.9 254.6 500.6 255.0 506.3 255.5 512.1 256.0 517.8 256.5 523.5 257.1 529.2 257.6 534.9 258.3 540.7 258.9 546.4 259.6 552.1 260.3 557.8 261.1 563.6 261.9 569.3 262.7 575.0 263.6 580.7 264.5 586.4 265.5 592.2 266.5 597.9 267.6 603.6 268.7 609.3 269.9 615.0 271.1 620.8 272.4 626.5 273.7 632.2 275.1 637.9 276.5 643.7 278.0 649.4 279.5 655.1 281.1 660.8 282.7 666.5 284.4 672.3 286.1 678.0 287.9 683.7 289.7 689.4 291.5 695.1 293.4 700.9 295.3 706.6 297.3 712.3 299.3 718.0 301.3 723.8 303.4 729.5 305.5 735.2 307.6 740.9 309.8 746.6 311.9 752.4 314.1 758.1 316.4 763.8 318.6 769.5 320.8 775.2 323.1 781.0 325.4 786.7 327.7 792.4 330.0 798.1 332.3 803.9 334.6 809.6 336.9 815.3 339.3 821.0 341.7 826.7 344.2 832.5 346.7 838.2 349.2 843.9 351.8 849.6 354.4 855.3 357.0 861.1 359.6 866.8 362.2 872.5 364.7 878.2 367.2 884.0 369.6 889.7 371.9 895.4 374.1 901.1 376.1 906.8 377.9 912.6 379.6 918.3 381.2 924.0 382.7 929.7 384.1 935.4 385.5 941.2 386.9 946.9 388.5 952.6 390.2 958.3 392.1 964.0 394.1 969.8 396.3 975.5 398.6 981.2 401.1 986.9 403.7 992.7 406.4 998.4 409.2 1004.1 412.1 1009.8 415.1 1015.5 418.1 1021.3 421.2 1027.0 424.3 1032.7 427.5 1038.4 430.6 1044.1 433.8 1049.9 436.9 1055.6 440.0 1061.3 443.1 1067.0 446.2 1072.8 449.2 1078.5 452.3 1084.2 455.3 1089.9 458.4 1095.6 461.6 1101.4 464.8 1107.1 468.0 1112.8 471.3 1118.5 474.6 1124.2 477.8 1130.0 481.1 1135.7 484.3 1141.4 487.4 1147.1 490.5 1152.9 493.5 1158.6 496.3 1164.3 498.9 1170.0 501.3 1175.7 503.5 1181.5 505.4 1187.2 506.9 1192.9 508.1 1198.6 508.9 1204.3 509.2 1210.1 509.0 1215.8 508.4 1221.5 507.2 1227.2 505.6 1233.0 503.4 1238.7 500.7 1244.4 497.5 1250.1 493.7 1255.8 489.6 1261.6 485.3 1267.3 480.7 1273.0 476.0"/>
<path class="ln c" d="M145.9 232.0 151.6 230.8 157.3 229.5 163.1 228.3 168.8 227.1 174.5 226.0 180.2 224.9 185.9 223.9 191.7 223.0 197.4 222.1 203.1 221.3 208.8 220.7 214.6 220.1 220.3 219.7 226.0 219.4 231.7 219.2 237.4 219.1 243.2 219.2 248.9 219.2 254.6 219.4 260.3 219.6 266.0 219.9 271.8 220.2 277.5 220.6 283.2 220.9 288.9 221.3 294.7 221.7 300.4 222.0 306.1 222.4 311.8 222.7 317.5 223.0 323.3 223.3 329.0 223.5 334.7 223.8 340.4 224.0 346.1 224.2 351.9 224.5 357.6 224.7 363.3 224.9 369.0 225.0 374.8 225.2 380.5 225.4 386.2 225.6 391.9 225.8 397.6 225.9 403.4 226.1 409.1 226.3 414.8 226.5 420.5 226.6 426.2 226.8 432.0 227.0 437.7 227.2 443.4 227.4 449.1 227.6 454.9 227.8 460.6 228.1 466.3 228.3 472.0 228.6 477.7 228.8 483.5 229.1 489.2 229.4 494.9 229.7 500.6 230.0 506.3 230.4 512.1 230.7 517.8 231.1 523.5 231.5 529.2 231.9 534.9 232.3 540.7 232.7 546.4 233.1 552.1 233.5 557.8 233.9 563.6 234.2 569.3 234.6 575.0 235.0 580.7 235.4 586.4 235.8 592.2 236.2 597.9 236.6 603.6 237.0 609.3 237.4 615.0 237.8 620.8 238.3 626.5 238.8 632.2 239.3 637.9 239.8 643.7 240.4 649.4 241.0 655.1 241.7 660.8 242.5 666.5 243.4 672.3 244.6 678.0 246.0 683.7 247.6 689.4 249.5 695.1 251.8 700.9 254.4 706.6 257.4 712.3 260.7 718.0 264.2 723.8 267.9 729.5 271.7 735.2 275.5 740.9 279.5 746.6 284.0 752.4 289.3 758.1 295.5 763.8 302.2 769.5 308.5 775.2 313.7 781.0 318.1 786.7 322.4 792.4 327.3 798.1 333.6 803.9 341.1 809.6 348.9 815.3 356.0 821.0 362.4 826.7 368.6 832.5 375.2 838.2 382.0 843.9 388.7 849.6 395.0 855.3 400.4 861.1 404.5 866.8 406.9 872.5 407.8 878.2 408.0 884.0 408.0 889.7 407.9 895.4 407.8 901.1 407.8 906.8 407.8 912.6 407.8 918.3 407.8 924.0 407.7 929.7 407.5 935.4 407.1 941.2 406.6 946.9 406.0 952.6 405.5 958.3 405.2 964.0 405.3 969.8 405.8 975.5 407.0 981.2 408.7 986.9 411.0 992.7 413.9 998.4 417.3 1004.1 421.0 1009.8 424.6 1015.5 428.1 1021.3 431.1 1027.0 433.7 1032.7 435.9 1038.4 437.8 1044.1 439.6 1049.9 441.3 1055.6 443.2 1061.3 445.1 1067.0 447.2 1072.8 449.5 1078.5 451.9 1084.2 454.5 1089.9 457.1 1095.6 459.9 1101.4 462.7 1107.1 465.5 1112.8 468.4 1118.5 471.3 1124.2 474.2 1130.0 477.0 1135.7 479.9 1141.4 482.7 1147.1 485.5 1152.9 488.2 1158.6 490.8 1164.3 493.4 1170.0 495.9 1175.7 498.3 1181.5 500.6 1187.2 502.9 1192.9 505.0 1198.6 507.0 1204.3 508.9 1210.1 510.8 1215.8 512.5 1221.5 514.2 1227.2 515.8 1233.0 517.5 1238.7 519.1 1244.4 520.8 1250.1 522.5 1255.8 524.3 1261.6 526.2 1267.3 528.1 1273.0 530.0"/>
<path class="ln n" d="M298.0 237.9 303.7 238.2 309.5 238.5 315.2 238.8 320.9 239.1 326.7 239.3 332.4 239.5 338.1 239.7 343.9 239.9 349.6 240.1 355.4 240.3 361.1 240.5 366.8 240.7 372.6 240.9 378.3 241.1 384.0 241.3 389.8 241.5 395.5 241.8 401.2 242.1 407.0 242.3 412.7 242.7 418.4 243.0 424.2 243.3 429.9 243.7 435.6 244.1 441.4 244.5 447.1 244.9 452.9 245.4 458.6 245.9 464.3 246.4 470.1 246.9 475.8 247.5 481.5 248.0 487.3 248.6 493.0 249.2 498.7 249.9 504.5 250.5 510.2 251.2 515.9 251.9 521.7 252.6 527.4 253.4 533.1 254.1 538.9 254.9 544.6 255.7 550.4 256.5 556.1 257.4 561.8 258.3 567.6 259.2 573.3 260.1 579.0 261.0 584.8 261.9 590.5 262.8 596.2 263.6 602.0 264.5 607.7 265.3 613.4 266.0 619.2 266.7 624.9 267.2 630.6 267.8 636.4 268.2 642.1 268.5 647.9 268.7 653.6 268.9 659.3 269.1 665.1 269.3 670.8 269.6 676.5 269.9 682.3 270.4 688.0 271.1 693.7 272.0 699.5 273.2 705.2 274.6 710.9 276.4 716.7 278.5 722.4 280.9 728.1 283.6 733.9 286.4 739.6 289.3 745.4 292.3 751.1 295.1 756.8 297.9 762.6 300.4 768.3 302.7 774.0 304.7 779.8 306.4 785.5 308.0 791.2 309.4 797.0 310.8 802.7 312.1 808.4 313.3 814.2 314.6 819.9 316.0 825.6 317.5 831.4 319.1 837.1 320.8 842.9 322.6 848.6 324.4 854.3 326.3 860.1 328.2 865.8 330.1 871.5 332.1 877.3 334.1 883.0 336.0 888.7 338.0 894.5 339.9 900.2 341.8 905.9 343.8 911.7 345.7 917.4 347.7 923.1 349.6 928.9 351.6 934.6 353.6 940.4 355.6 946.1 357.6 951.8 359.5 957.6 361.4 963.3 363.2 969.0 364.8 974.8 366.3 980.5 367.7 986.2 368.9 992.0 370.0 997.7 370.9 1003.4 371.8 1009.2 372.6 1014.9 373.4 1020.6 374.2 1026.4 375.1 1032.1 376.0 1037.9 376.9 1043.6 378.0 1049.3 379.2 1055.1 380.6 1060.8 382.1 1066.5 383.9 1072.3 385.9 1078.0 388.1 1083.7 390.5 1089.5 393.3 1095.2 396.3 1100.9 399.7 1106.7 403.2 1112.4 406.8 1118.1 410.6 1123.9 414.3 1129.6 417.9 1135.4 421.5 1141.1 425.0 1146.8 428.5 1152.6 431.9 1158.3 435.3 1164.0 438.6 1169.8 441.9 1175.5 445.3 1181.2 448.6 1187.0 452.0 1192.7 455.4 1198.4 458.8 1204.2 462.2 1209.9 465.7 1215.6 469.2 1221.4 472.7 1227.1 476.3 1232.9 479.9 1238.6 483.6 1244.3 487.3 1250.1 491.0 1255.8 494.7 1261.5 498.5 1267.3 502.2 1273.0 506.0"/>
<path class="ln c" d="M145.9 225.0 151.6 223.8 157.3 222.7 163.1 221.5 168.8 220.4 174.5 219.4 180.2 218.3 185.9 217.4 191.7 216.5 197.4 215.8 203.1 215.1 208.8 214.5 214.6 214.1 220.3 213.8 226.0 213.6 231.7 213.6 237.4 213.6 243.2 213.7 248.9 214.0 254.6 214.3 260.3 214.6 266.0 215.1 271.8 215.5 277.5 216.0 283.2 216.5 288.9 217.0 294.7 217.5 300.4 218.0 306.1 218.5 311.8 218.9 317.5 219.4 323.3 219.8 329.0 220.2 334.7 220.5 340.4 220.8 346.1 221.2 351.9 221.5 357.6 221.7 363.3 222.0 369.0 222.3 374.8 222.5 380.5 222.7 386.2 222.9 391.9 223.1 397.6 223.3 403.4 223.5 409.1 223.7 414.8 223.8 420.5 224.0 426.2 224.2 432.0 224.4 437.7 224.6 443.4 224.8 449.1 225.0 454.9 225.2 460.6 225.4 466.3 225.7 472.0 225.9 477.7 226.2 483.5 226.4 489.2 226.7 494.9 227.0 500.6 227.2 506.3 227.5 512.1 227.8 517.8 228.0 523.5 228.3 529.2 228.5 534.9 228.8 540.7 229.0 546.4 229.3 552.1 229.5 557.8 229.7 563.6 229.9 569.3 230.2 575.0 230.4 580.7 230.7 586.4 231.1 592.2 231.4 597.9 231.8 603.6 232.3 609.3 232.8 615.0 233.3 620.8 233.9 626.5 234.5 632.2 235.1 637.9 235.8 643.7 236.4 649.4 237.1 655.1 237.9 660.8 238.8 666.5 239.9 672.3 241.3 678.0 243.1 683.7 245.2 689.4 247.8 695.1 250.9 700.9 254.5 706.6 258.4 712.3 262.5 718.0 266.6 723.8 270.6 729.5 274.6 735.2 278.9 740.9 283.8 746.6 289.6 752.4 296.5 758.1 303.6 763.8 310.0 769.5 315.1 775.2 319.5 781.0 324.1 786.7 329.7 792.4 336.7 798.1 344.6 803.9 352.2 809.6 358.8 815.3 364.9 821.0 371.2 826.7 378.2 832.5 385.5 838.2 392.7 843.9 399.5 849.6 406.2 855.3 412.7 861.1 418.9 866.8 424.4 872.5 428.7 878.2 431.5 884.0 433.0 889.7 433.6 895.4 433.5 901.1 432.9 906.8 431.9 912.6 430.8 918.3 429.5 924.0 428.1 929.7 426.6 935.4 425.0 941.2 423.2 946.9 421.3 952.6 419.3 958.3 417.2 964.0 414.8 969.8 412.3 975.5 409.5 981.2 406.3 986.9 402.9 992.7 399.1 998.4 395.1 1004.1 390.9 1009.8 386.8 1015.5 382.7 1021.3 378.9 1027.0 375.4 1032.7 372.4 1038.4 369.7 1044.1 367.0 1049.9 364.2 1055.6 361.1 1061.3 357.9 1067.0 354.8 1072.8 352.1 1078.5 349.8 1084.2 348.2 1089.9 347.0 1095.6 346.1 1101.4 345.0 1107.1 343.8 1112.8 342.5 1118.5 341.1 1124.2 339.8 1130.0 338.5 1135.7 337.5 1141.4 336.6 1147.1 336.1 1152.9 336.0 1158.6 336.3 1164.3 337.0 1170.0 338.2 1175.7 339.7 1181.5 341.6 1187.2 343.8 1192.9 346.4 1198.6 349.3 1204.3 352.5 1210.1 355.9 1215.8 359.6 1221.5 363.5 1227.2 367.6 1233.0 371.9 1238.7 376.2 1244.4 380.6 1250.1 385.1 1255.8 389.6 1261.6 394.0 1267.3 398.5 1273.0 403.0"/>
<path class="ln o" d="M145.9 295.2 151.7 293.2 157.5 291.2 163.3 289.2 169.0 287.2 174.8 285.3 180.6 283.5 186.4 281.8 192.2 280.2 198.0 278.6 203.8 277.2 209.5 275.8 215.3 274.6 221.1 273.4 226.9 272.3 232.7 271.2 238.5 270.3 244.3 269.3 250.1 268.5 255.8 267.7 261.6 266.9 267.4 266.1 273.2 265.4 279.0 264.7 284.8 263.9 290.6 263.2 296.3 262.4 302.1 261.6 307.9 260.8 313.7 260.0 319.5 259.2 325.3 258.3 331.1 257.5 336.8 256.6 342.6 255.7 348.4 254.8 354.2 254.0 360.0 253.1 365.8 252.3 371.6 251.5 377.4 250.8 383.1 250.1 388.9 249.5 394.7 249.0 400.5 248.6 406.3 248.3 412.1 248.1 417.9 248.0 423.6 248.1 429.4 248.5 435.2 249.5 441.0 251.4"/>
<path class="ln g" d="M145.9 280.0 151.6 278.1 157.3 276.1 163.1 274.2 168.8 272.3 174.5 270.3 180.2 268.4 185.9 266.5 191.7 264.6 197.4 262.8 203.1 260.9 208.8 259.1 214.6 257.3 220.3 255.5 226.0 253.8 231.7 252.1 237.4 250.4 243.2 248.8 248.9 247.2 254.6 245.6 260.3 244.1 266.0 242.6 271.8 241.2 277.5 239.8 283.2 238.5 288.9 237.3 294.7 236.1 300.4 234.9 306.1 233.8 311.8 232.8 317.5 231.9 323.3 231.0 329.0 230.1 334.7 229.4 340.4 228.6 346.1 228.0 351.9 227.4 357.6 226.8 363.3 226.3 369.0 225.9 374.8 225.5 380.5 225.1 386.2 224.9 391.9 224.6 397.6 224.4 403.4 224.3 409.1 224.2 414.8 224.2 420.5 224.2 426.2 224.3 432.0 224.4 437.7 224.5 443.4 224.7 449.1 225.0 454.9 225.2 460.6 225.6 466.3 225.9 472.0 226.3 477.7 226.8 483.5 227.2 489.2 227.7 494.9 228.2 500.6 228.8 506.3 229.3 512.1 229.9 517.8 230.5 523.5 231.1 529.2 231.7 534.9 232.3 540.7 232.9 546.4 233.6 552.1 234.2 557.8 234.8 563.6 235.4 569.3 236.0 575.0 236.6 580.7 237.3 586.4 238.1 592.2 239.0 597.9 240.1 603.6 241.3 609.3 242.8 615.0 244.4 620.8 246.3 626.5 248.5 632.2 251.0 637.9 253.9 643.7 257.1 649.4 260.6 655.1 264.4 660.8 268.4 666.5 272.5 672.3 276.7 678.0 280.8 683.7 284.9 689.4 288.9 695.1 292.8 700.9 296.7 706.6 300.8 712.3 304.9 718.0 309.2 723.8 313.4 729.5 317.7 735.2 321.9 740.9 326.1 746.6 330.2 752.4 334.1 758.1 337.8 763.8 341.4 769.5 344.7 775.2 347.8 781.0 350.6 786.7 353.4 792.4 356.2 798.1 359.0 803.9 362.1 809.6 365.4 815.3 368.8 821.0 372.3 826.7 375.8 832.5 379.3 838.2 382.5 843.9 385.7 849.6 388.8 855.3 391.6 861.1 393.4 866.8 393.2 872.5 391.1 878.2 387.6 884.0 383.1 889.7 378.1 895.4 373.1 901.1 368.4 906.8 364.1 912.6 360.2 918.3 356.6 924.0 353.2 929.7 349.9 935.4 346.6 941.2 343.3 946.9 340.1 952.6 337.0 958.3 334.0 964.0 331.3 969.8 328.8 975.5 326.6 981.2 324.7 986.9 323.2 992.7 322.0 998.4 321.2 1004.1 320.8 1009.8 320.8 1015.5 321.2 1021.3 322.0 1027.0 323.3 1032.7 325.0 1038.4 327.3 1044.1 330.0 1049.9 333.5 1055.6 337.8 1061.3 343.0 1067.0 349.2 1072.8 356.2 1078.5 364.0 1084.2 372.3 1089.9 381.2 1095.6 390.5 1101.4 400.0 1107.1 409.7 1112.8 419.3 1118.5 429.0 1124.2 438.7 1130.0 448.5 1135.7 458.5 1141.4 469.1 1147.1 480.7 1152.9 493.6 1158.6 507.8 1164.3 522.8 1170.0 538.4 1175.7 554.0 1181.5 569.5 1187.2 584.9 1192.9 600.4 1198.6 616.2 1204.3 632.2 1210.1 648.7 1215.8 665.4 1221.5 682.3 1227.2 699.4 1233.0 716.7 1238.7 734.0 1244.4 751.3 1250.1 768.6 1255.8 785.9 1261.6 803.2 1267.3 820.4 1273.0 837.7"/>
<path class="ln g" d="M145.9 315.0 151.7 312.2 157.5 309.4 163.3 306.6 169.1 303.9 174.8 301.1 180.6 298.5 186.4 295.9 192.2 293.3 198.0 290.8 203.8 288.5 209.6 286.2 215.4 283.9 221.1 281.8 226.9 279.7 232.7 277.6 238.5 275.5 244.3 273.5 250.1 271.5 255.9 269.4 261.7 267.4 267.4 265.4 273.2 263.4 279.0 261.3 284.8 259.3 290.6 257.3 296.4 255.3 302.2 253.2 308.0 251.2 313.7 249.2 319.5 247.2 325.3 245.2 331.1 243.2 336.9 241.3 342.7 239.4 348.5 237.6 354.2 235.9 360.0 234.2 365.8 232.5 371.6 230.9 377.4 229.3 383.2 227.8 389.0 226.3 394.8 224.8 400.6 223.3 406.3 221.9 412.1 220.6 417.9 219.3 423.7 218.2 429.5 217.2 435.3 216.4 441.1 215.7 446.9 215.2 452.6 214.7 458.4 214.4 464.2 214.2 470.0 214.0"/>
<path class="ln b" d="M145.9 311.0 152.6 308.9 159.4 306.8 166.1 304.7 172.8 302.6 179.5 300.5 186.3 298.4 193.0 296.2"/>
<path class="ln b" d="M145.9 261.0 151.7 260.4 157.5 259.7 163.4 259.1 169.2 258.4 175.0 257.8 180.8 257.3 186.6 256.7 192.5 256.2 198.3 255.7 204.1 255.3 209.9 254.9 215.8 254.6 221.6 254.3 227.4 254.0 233.2 253.6 239.0 253.2 244.9 252.7 250.7 252.0 256.5 251.2 262.3 250.3 268.1 249.4 274.0 248.4 279.8 247.5 285.6 246.5 291.4 245.6 297.3 244.8 303.1 244.1 308.9 243.4 314.7 242.8 320.5 242.2 326.4 241.7 332.2 241.3 338.0 240.8 343.8 240.4 349.6 240.0 355.5 239.7 361.3 239.3 367.1 239.0 372.9 238.6 378.8 238.3 384.6 238.0 390.4 237.7 396.2 237.4 402.0 237.0 407.9 236.7 413.7 236.4 419.5 236.0 425.3 235.7 431.1 235.3 437.0 234.9 442.8 234.5 448.6 234.1 454.4 233.7 460.3 233.3 466.1 232.8 471.9 232.4 477.7 231.9 483.5 231.4 489.4 230.9 495.2 230.4 501.0 229.9"/>
<path class="ln n" d="M145.9 235.3 151.6 235.2 157.3 235.1 163.1 235.0 168.8 234.9 174.5 234.8 180.2 234.7 185.9 234.5 191.7 234.3 197.4 234.1 203.1 233.9 208.8 233.6 214.6 233.3 220.3 232.9 226.0 232.6 231.7 232.2 237.4 231.8 243.2 231.5 248.9 231.1 254.6 230.7 260.3 230.3 266.0 230.0 271.8 229.6 277.5 229.2 283.2 228.8 288.9 228.4 294.7 227.9 300.4 227.5 306.1 227.0 311.8 226.5 317.5 225.9 323.3 225.4 329.0 224.8 334.7 224.2 340.4 223.6 346.1 222.9 351.9 222.3 357.6 221.6 363.3 221.0 369.0 220.3 374.8 219.6 380.5 218.9 386.2 218.3 391.9 217.5 397.6 216.8 403.4 216.1 409.1 215.4 414.8 214.6 420.5 213.9 426.2 213.1 432.0 212.4 437.7 211.7 443.4 211.0 449.1 210.3 454.9 209.6 460.6 209.0 466.3 208.4 472.0 207.8 477.7 207.3 483.5 206.9 489.2 206.5 494.9 206.1 500.6 205.9 506.3 205.7 512.1 205.6 517.8 205.6 523.5 205.7 529.2 205.9 534.9 206.2 540.7 206.7 546.4 207.2 552.1 207.9 557.8 208.7 563.6 209.6 569.3 210.6 575.0 211.6 580.7 212.7 586.4 213.9 592.2 215.2 597.9 216.5 603.6 217.9 609.3 219.2 615.0 220.6 620.8 222.1 626.5 223.5 632.2 224.9 637.9 226.3 643.7 227.8 649.4 229.2 655.1 230.6 660.8 231.9 666.5 233.3 672.3 234.7 678.0 236.2 683.7 237.6 689.4 239.1 695.1 240.6 700.9 242.2 706.6 243.8 712.3 245.5 718.0 247.3 723.8 249.1 729.5 251.1 735.2 253.1 740.9 255.2 746.6 257.3 752.4 259.5 758.1 261.7 763.8 264.0 769.5 266.3 775.2 268.6 781.0 271.0 786.7 273.4 792.4 275.8 798.1 278.2 803.9 280.7 809.6 283.2 815.3 285.7 821.0 288.2 826.7 290.6 832.5 293.0 838.2 295.3 843.9 297.5 849.6 299.5 855.3 301.6 861.1 303.6 866.8 305.7 872.5 307.9 878.2 310.2 884.0 312.8 889.7 315.5 895.4 318.3 901.1 321.2 906.8 324.0 912.6 326.8 918.3 329.5 924.0 332.0 929.7 334.4 935.4 336.7 941.2 338.9 946.9 340.9 952.6 342.8 958.3 344.6 964.0 346.2 969.8 347.7 975.5 349.1 981.2 350.3 986.9 351.3 992.7 352.2 998.4 353.0 1004.1 353.7 1009.8 354.3 1015.5 354.7 1021.3 355.1 1027.0 355.4 1032.7 355.7 1038.4 355.8 1044.1 356.0 1049.9 356.0 1055.6 356.1 1061.3 356.1 1067.0 356.1 1072.8 356.1 1078.5 356.1 1084.2 356.0 1089.9 356.0 1095.6 356.0 1101.4 356.0 1107.1 356.0 1112.8 356.0 1118.5 356.0 1124.2 355.9 1130.0 355.7 1135.7 355.4 1141.4 355.0 1147.1 354.4 1152.9 353.6 1158.6 352.6 1164.3 351.4 1170.0 350.1 1175.7 348.7 1181.5 347.2 1187.2 345.8 1192.9 344.3 1198.6 342.8 1204.3 341.5 1210.1 340.2 1215.8 338.9 1221.5 337.8 1227.2 336.6 1233.0 335.6 1238.7 334.5 1244.4 333.5 1250.1 332.5 1255.8 331.5 1261.6 330.5 1267.3 329.5 1273.0 328.5"/>
<path class="ln n" d="M145.9 308.8 151.6 304.6 157.3 300.4 163.1 296.1 168.8 291.8 174.5 287.4 180.2 282.8 185.9 278.1 191.7 273.4 197.4 268.6 203.1 263.8 208.8 259.0 214.6 254.3 220.3 249.8 226.0 245.5 231.7 241.6 237.4 238.0 243.2 234.8 248.9 232.2 254.6 230.1 260.3 228.6 266.0 227.5 271.8 226.8 277.5 226.4 283.2 226.3 288.9 226.4 294.7 226.7 300.4 227.0 306.1 227.4 311.8 227.9 317.5 228.4 323.3 228.9 329.0 229.4 334.7 229.9 340.4 230.5 346.1 231.1 351.9 231.6 357.6 232.2 363.3 232.8 369.0 233.3 374.8 233.9 380.5 234.4 386.2 234.9 391.9 235.4 397.6 235.8 403.4 236.2 409.1 236.6 414.8 236.9 420.5 237.2 426.2 237.5 432.0 237.8 437.7 238.1 443.4 238.3 449.1 238.6 454.9 238.9 460.6 239.2 466.3 239.5 472.0 239.8 477.7 240.2 483.5 240.6 489.2 241.0 494.9 241.5 500.6 242.1 506.3 242.7 512.1 243.3 517.8 243.9 523.5 244.5 529.2 245.1 534.9 245.6 540.7 245.9 546.4 246.2 552.1 246.2 557.8 246.1 563.6 245.8 569.3 245.2 575.0 244.5 580.7 243.7 586.4 242.7 592.2 241.7 597.9 240.7 603.6 239.6 609.3 238.7 615.0 237.8 620.8 237.0 626.5 236.3 632.2 235.9 637.9 235.7 643.7 235.7 649.4 236.0 655.1 236.7 660.8 237.6 666.5 238.8 672.3 240.1 678.0 241.6 683.7 243.2 689.4 245.0 695.1 246.8 700.9 248.7 706.6 250.7 712.3 252.8 718.0 254.9 723.8 257.1 729.5 259.2 735.2 261.4 740.9 263.7 746.6 265.9 752.4 268.1 758.1 270.2 763.8 272.4 769.5 274.6 775.2 276.8 781.0 279.0 786.7 281.3 792.4 283.6 798.1 285.9 803.9 288.3 809.6 290.8 815.3 293.2 821.0 295.6 826.7 298.0 832.5 300.2 838.2 302.4 843.9 304.3 849.6 306.2 855.3 308.0 861.1 309.9 866.8 311.8 872.5 313.9 878.2 316.2 884.0 318.8 889.7 321.7 895.4 324.8 901.1 327.9 906.8 331.0 912.6 333.9 918.3 336.7 924.0 339.3 929.7 341.7 935.4 344.0 941.2 346.1 946.9 348.0 952.6 349.8 958.3 351.5 964.0 353.0 969.8 354.4 975.5 355.6 981.2 356.7 986.9 357.7 992.7 358.5 998.4 359.2 1004.1 359.8 1009.8 360.3 1015.5 360.7 1021.3 361.0 1027.0 361.3 1032.7 361.4 1038.4 361.5 1044.1 361.5 1049.9 361.5 1055.6 361.4 1061.3 361.2 1067.0 361.1 1072.8 360.9 1078.5 360.7 1084.2 360.5 1089.9 360.3 1095.6 360.1 1101.4 360.0 1107.1 359.9 1112.8 359.8 1118.5 359.8 1124.2 360.0 1130.0 360.2 1135.7 360.7 1141.4 361.2 1147.1 362.0 1152.9 363.0 1158.6 364.2 1164.3 365.6 1170.0 367.1 1175.7 368.8 1181.5 370.5 1187.2 372.2 1192.9 373.9 1198.6 375.6 1204.3 377.2 1210.1 378.7 1215.8 380.2 1221.5 381.5 1227.2 382.8 1233.0 384.0 1238.7 385.1 1244.4 386.1 1250.1 387.0 1255.8 387.8 1261.6 388.6 1267.3 389.3 1273.0 390.0"/>
<path class="ln g" d="M468.0 226.0 473.8 227.5 479.6 229.0 485.5 230.6 491.3 232.2 497.1 233.9 502.9 235.5 508.8 237.1 514.6 238.7 520.4 240.3 526.2 241.8 532.1 243.2 537.9 244.5 543.7 245.8 549.5 246.9 555.4 248.1 561.2 249.2 567.0 250.3 572.9 251.5 578.7 252.8 584.5 254.2 590.3 255.8 596.1 257.6 602.0 259.6 607.8 262.0 613.6 264.6 619.5 267.6 625.3 270.9 631.1 274.7 636.9 278.8 642.8 283.3 648.6 287.9 654.4 292.6 660.2 297.4 666.0 302.1 671.9 306.7 677.7 311.2 683.5 315.7 689.4 320.1 695.2 324.5 701.0 328.7"/>
<path class="ln g" d="M468.0 214.1 473.8 214.0 479.6 214.0 485.5 214.0 491.3 214.0 497.1 214.2 502.9 214.3 508.8 214.5 514.6 214.8 520.4 215.2 526.2 215.6 532.1 216.1 537.9 216.7 543.7 217.5 549.5 218.4 555.4 219.4 561.2 220.6 567.0 222.0 572.9 223.7 578.7 225.6 584.5 227.8 590.3 230.3 596.1 233.2 602.0 236.4 607.8 239.8 613.6 243.6 619.5 247.6 625.3 251.9 631.1 256.3 636.9 260.9 642.8 265.6 648.6 270.5 654.4 275.4 660.2 280.5 666.0 285.5 671.9 290.7 677.7 295.5 683.5 299.7 689.4 303.3 695.2 306.5 701.0 309.8"/>
<path class="ln o" d="M650.0 233.9 655.8 234.4 661.5 234.9 667.3 235.5 673.1 236.0 678.8 236.6 684.6 237.2 690.4 237.7 696.1 238.3 701.9 238.9 707.7 239.5 713.5 240.1 719.2 240.6 725.0 241.2 730.8 241.7 736.5 242.3 742.3 242.8 748.1 243.3 753.8 243.8 759.6 244.3 765.4 244.8 771.1 245.2 776.9 245.7 782.7 246.1 788.4 246.5 794.2 247.0 800.0 247.4 805.8 247.7 811.5 248.1 817.3 248.5 823.1 248.9 828.8 249.4 834.6 249.9 840.4 250.4 846.1 251.0 851.9 251.7 857.7 252.5 863.4 253.4 869.2 254.5 875.0 255.6 880.7 256.9 886.5 258.4 892.3 260.0 898.0 261.7 903.8 263.4 909.6 265.2 915.4 267.1 921.1 268.9 926.9 270.7 932.7 272.4 938.4 274.0 944.2 275.6 950.0 277.1 955.7 278.5 961.5 279.9 967.3 281.2 973.0 282.5 978.8 283.9 984.6 285.2 990.3 286.6 996.1 288.0 1001.9 289.5 1007.6 291.1 1013.4 292.7 1019.2 294.4 1025.0 296.3 1030.7 298.2 1036.5 300.3 1042.3 302.5 1048.0 304.8 1053.8 307.2 1059.6 309.8 1065.3 312.5 1071.1 315.4 1076.9 318.4 1082.6 321.4 1088.4 324.4 1094.2 327.5 1099.9 330.5 1105.7 333.5 1111.5 336.4 1117.2 339.1 1123.0 341.7 1128.8 344.3 1134.6 346.8 1140.3 349.4 1146.1 352.1 1151.9 354.9 1157.6 358.0 1163.4 361.4 1169.2 365.2 1174.9 369.4 1180.7 374.1 1186.5 379.2 1192.2 384.7 1198.0 390.5 1203.8 396.4 1209.5 402.5 1215.3 408.8 1221.1 415.2 1226.9 421.6 1232.6 428.1 1238.4 434.7 1244.2 441.4 1249.9 448.1 1255.7 454.8 1261.5 461.5 1267.2 468.2 1273.0 475.0"/>
<path class="ln o" d="M611.0 256.3 616.8 257.3 622.5 258.1 628.3 258.7 634.0 259.3 639.8 259.9 645.5 260.5 651.3 261.2 657.1 261.9 662.8 262.7 668.6 263.5 674.3 264.3 680.1 264.9 685.8 265.3 691.6 265.6 697.3 265.6 703.1 265.3 708.9 264.8 714.6 264.1 720.4 263.3 726.1 262.3 731.9 261.4 737.6 260.4 743.4 259.5 749.2 258.6 754.9 257.9 760.7 257.1 766.4 256.4 772.2 255.7 777.9 255.0 783.7 254.2 789.5 253.5 795.2 252.7 801.0 252.0 806.7 251.2 812.5 250.5 818.2 249.8 824.0 249.2 829.7 248.6 835.5 248.0 841.3 247.6 847.0 247.1 852.8 246.8 858.5 246.4 864.3 246.1 870.0 245.9 875.8 245.6 881.6 245.5 887.3 245.3 893.1 245.2 898.8 245.1 904.6 245.0 910.3 245.0 916.1 245.0 921.9 245.0 927.6 245.1 933.4 245.2 939.1 245.4 944.9 245.5 950.6 245.7 956.4 245.9 962.1 246.2 967.9 246.4 973.7 246.6 979.4 246.8 985.2 247.0 990.9 247.2 996.7 247.3 1002.4 247.5 1008.2 247.6 1014.0 247.7 1019.7 247.8 1025.5 247.9 1031.2 248.1 1037.0 248.4 1042.7 248.7 1048.5 249.0 1054.3 249.4 1060.0 249.8 1065.8 250.3 1071.5 250.8 1077.3 251.3 1083.0 251.9 1088.8 252.5 1094.5 253.1 1100.3 253.7 1106.1 254.4 1111.8 255.0 1117.6 255.7 1123.3 256.4 1129.1 257.1 1134.8 257.8 1140.6 258.5 1146.4 259.2 1152.1 259.9 1157.9 260.6 1163.6 261.4 1169.4 262.1 1175.1 262.8 1180.9 263.5 1186.7 264.3 1192.4 265.0 1198.2 265.8 1203.9 266.5 1209.7 267.3 1215.4 268.0 1221.2 268.7 1226.9 269.5 1232.7 270.2 1238.5 271.0 1244.2 271.7 1250.0 272.5 1255.7 273.2 1261.5 274.0 1267.2 274.7 1273.0 275.5"/>
<path class="ln c" d="M585.0 231.0 591.0 231.4 596.9 231.8 602.9 232.2 608.8 232.8 614.8 233.3 620.8 233.9 626.7 234.5 632.7 235.2 638.6 235.8 644.6 236.5 650.5 237.2 656.5 238.1 662.5 239.1 668.4 240.4 674.4 241.9 680.3 243.9 686.3 246.3 692.2 249.3 698.2 252.8 704.2 256.7 710.1 260.9 716.1 265.2 722.0 269.4 728.0 273.5"/>
<path class="ln o" d="M724.0 286.2 729.8 284.9 735.6 283.4 741.3 281.9 747.1 280.5 752.9 279.3 758.7 278.2 764.5 277.3 770.2 276.5 776.0 275.7 781.8 275.1 787.6 274.5 793.3 273.8 799.1 273.2 804.9 272.5 810.7 271.7 816.5 270.9 822.2 270.1 828.0 269.2 833.8 268.3 839.6 267.4 845.4 266.4 851.1 265.5 856.9 264.5 862.7 263.6 868.5 262.7 874.3 261.7 880.0 260.9 885.8 260.0 891.6 259.2 897.4 258.4 903.1 257.6 908.9 256.9 914.7 256.2 920.5 255.6 926.3 255.0 932.0 254.5 937.8 254.1 943.6 253.7 949.4 253.4 955.2 253.2 960.9 253.0 966.7 252.9 972.5 252.9 978.3 252.9 984.1 253.1 989.8 253.3 995.6 253.7 1001.4 254.1 1007.2 254.6 1012.9 255.3 1018.7 256.0 1024.5 256.9 1030.3 257.8 1036.1 258.9 1041.8 260.1 1047.6 261.4 1053.4 262.9 1059.2 264.4 1065.0 266.1 1070.7 267.8 1076.5 269.7 1082.3 271.6 1088.1 273.5 1093.9 275.4 1099.6 277.4 1105.4 279.3 1111.2 281.3 1117.0 283.3 1122.7 285.3 1128.5 287.4 1134.3 289.6 1140.1 291.8 1145.9 294.2 1151.6 296.7 1157.4 299.4 1163.2 302.1 1169.0 304.9 1174.8 307.8 1180.5 310.6 1186.3 313.5 1192.1 316.3 1197.9 319.0 1203.7 321.6 1209.4 324.1 1215.2 326.5 1221.0 328.8 1226.8 331.0 1232.5 333.1 1238.3 335.1 1244.1 337.1 1249.9 339.0 1255.7 340.8 1261.4 342.5 1267.2 344.3 1273.0 346.0"/>
<path class="ln o" d="M599.0 282.8 604.8 283.8 610.5 284.7 616.3 285.5 622.0 286.3 627.8 286.9 633.6 287.5 639.3 287.9 645.1 288.4 650.8 288.7 656.6 288.9 662.4 289.1 668.1 289.3 673.9 289.4 679.6 289.4 685.4 289.4 691.2 289.3 696.9 289.2 702.7 289.1 708.5 289.0 714.2 288.8 720.0 288.6 725.7 288.4 731.5 288.2 737.3 288.0 743.0 287.7 748.8 287.5 754.5 287.3 760.3 287.1 766.1 286.9 771.8 286.7 777.6 286.5 783.3 286.3 789.1 286.0 794.9 285.8 800.6 285.5 806.4 285.1 812.1 284.8 817.9 284.4 823.7 283.9 829.4 283.4 835.2 282.9 840.9 282.3 846.7 281.6 852.5 280.7 858.2 279.8 864.0 278.8 869.8 277.6 875.5 276.2 881.3 274.7 887.0 273.2 892.8 271.6 898.6 270.0 904.3 268.5 910.1 267.0 915.8 265.5 921.6 264.2 927.4 263.0 933.1 261.9 938.9 260.9 944.6 260.0 950.4 259.2 956.2 258.6 961.9 258.1 967.7 257.7 973.4 257.5 979.2 257.3 985.0 257.4 990.7 257.5 996.5 257.8 1002.2 258.2 1008.0 258.7 1013.8 259.3 1019.5 260.1 1025.3 261.0 1031.1 262.0 1036.8 263.1 1042.6 264.3 1048.3 265.6 1054.1 267.0 1059.9 268.5 1065.6 270.1 1071.4 271.8 1077.1 273.6 1082.9 275.4 1088.7 277.2 1094.4 279.1 1100.2 281.1 1105.9 283.0 1111.7 285.0 1117.5 287.0 1123.2 289.0 1129.0 291.1 1134.7 293.2 1140.5 295.3 1146.3 297.5 1152.0 299.8 1157.8 302.1 1163.5 304.5 1169.3 307.0 1175.1 309.6 1180.8 312.2 1186.6 315.0 1192.4 317.9 1198.1 321.0 1203.9 324.2 1209.6 327.5 1215.4 330.9 1221.2 334.5 1226.9 338.2 1232.7 342.1 1238.4 346.0 1244.2 350.0 1250.0 354.1 1255.7 358.3 1261.5 362.5 1267.2 366.7 1273.0 371.0"/>
<path class="ln o" d="M950.0 259.4 955.8 259.2 961.5 259.1 967.3 259.1 973.1 259.1 978.8 259.4 984.6 259.8 990.4 260.4 996.1 261.3 1001.9 262.4 1007.7 263.8 1013.4 265.4 1019.2 267.3 1025.0 269.3 1030.8 271.5 1036.5 273.9 1042.3 276.4 1048.1 279.1 1053.8 281.8 1059.6 284.6 1065.4 287.6 1071.1 290.6 1076.9 293.7 1082.7 297.0 1088.4 300.3 1094.2 303.8 1100.0 307.5 1105.7 311.3 1111.5 315.1 1117.3 319.1 1123.0 323.0 1128.8 326.9 1134.6 330.7 1140.3 334.3 1146.1 337.8 1151.9 341.0 1157.6 344.0 1163.4 346.7 1169.2 349.3 1174.9 351.8 1180.7 354.2 1186.5 356.7 1192.2 359.1 1198.0 361.6 1203.8 364.3 1209.6 367.0 1215.3 369.9 1221.1 372.8 1226.9 375.8 1232.6 378.8 1238.4 381.7 1244.2 384.6 1249.9 387.5 1255.7 390.2 1261.5 392.8 1267.2 395.4 1273.0 398.0"/>
<path class="ln o" d="M145.9 240.7 151.6 239.0 157.3 237.4 163.1 235.8 168.8 234.1 174.5 232.6 180.2 231.0 185.9 229.5 191.7 228.0 197.4 226.5 203.1 225.1 208.8 223.8 214.6 222.5 220.3 221.3 226.0 220.2 231.7 219.1 237.4 218.1 243.2 217.2 248.9 216.4 254.6 215.7 260.3 215.1 266.0 214.6 271.8 214.2 277.5 213.9 283.2 213.8 288.9 213.7 294.7 213.8 300.4 214.0 306.1 214.3 311.8 214.7 317.5 215.1 323.3 215.7 329.0 216.3 334.7 216.9 340.4 217.6 346.1 218.3 351.9 219.1 357.6 219.8 363.3 220.6 369.0 221.4 374.8 222.1 380.5 223.0 386.2 223.8 391.9 224.7 397.6 225.6 403.4 226.6 409.1 227.6 414.8 228.7 420.5 229.9 426.2 231.2 432.0 232.5 437.7 233.9 443.4 235.4 449.1 237.0 454.9 238.7 460.6 240.4 466.3 242.3 472.0 244.2 477.7 246.2 483.5 248.2 489.2 250.2 494.9 252.3 500.6 254.2 506.3 256.1 512.1 257.9 517.8 259.6 523.5 261.2 529.2 262.7 534.9 264.3 540.7 265.8 546.4 267.3 552.1 268.8 557.8 270.3 563.6 271.7 569.3 273.2 575.0 274.6 580.7 275.9 586.4 277.2 592.2 278.4 597.9 279.6 603.6 280.7 609.3 281.7 615.0 282.7 620.8 283.6 626.5 284.5 632.2 285.5 637.9 286.4 643.7 287.5 649.4 288.5 655.1 289.7 660.8 291.0 666.5 292.4 672.3 293.9 678.0 295.6 683.7 297.3 689.4 299.1 695.1 301.0 700.9 302.9 706.6 304.8 712.3 306.7 718.0 308.7 723.8 310.7 729.5 312.7 735.2 314.7 740.9 316.8 746.6 318.9 752.4 321.0 758.1 323.1 763.8 325.2 769.5 327.3 775.2 329.4 781.0 331.3 786.7 333.2 792.4 335.0 798.1 336.7 803.9 338.4 809.6 340.1 815.3 341.7 821.0 343.4 826.7 345.1 832.5 346.9 838.2 348.7 843.9 350.6 849.6 352.7 855.3 354.7 861.1 356.8 866.8 358.9 872.5 361.0 878.2 363.2 884.0 365.3 889.7 367.4 895.4 369.4 901.1 371.5 906.8 373.4 912.6 375.4 918.3 377.2 924.0 379.0 929.7 380.8 935.4 382.4 941.2 384.0 946.9 385.5 952.6 386.9 958.3 388.2 964.0 389.4 969.8 390.6 975.5 391.7 981.2 392.7 986.9 393.5 992.7 394.4 998.4 395.1 1004.1 395.8 1009.8 396.4 1015.5 397.0 1021.3 397.5 1027.0 397.9 1032.7 398.3 1038.4 398.7 1044.1 399.1 1049.9 399.4 1055.6 399.7 1061.3 399.9 1067.0 400.2 1072.8 400.4 1078.5 400.7 1084.2 400.9 1089.9 401.1 1095.6 401.2 1101.4 401.2 1107.1 400.9 1112.8 400.3 1118.5 399.3 1124.2 397.9 1130.0 396.1 1135.7 393.9 1141.4 391.5 1147.1 388.9 1152.9 386.1 1158.6 383.3 1164.3 380.3 1170.0 377.3 1175.7 374.1 1181.5 370.8 1187.2 367.4 1192.9 363.8 1198.6 360.1 1204.3 356.1 1210.1 352.0 1215.8 347.6 1221.5 343.0 1227.2 338.0 1233.0 332.8 1238.7 327.2 1244.4 321.3 1250.1 314.9 1255.8 308.0 1261.6 300.9 1267.3 293.5 1273.0 286.0"/>
<path class="ln n" d="M350.0 211.0 355.7 211.6 361.5 212.3 367.2 213.1 372.9 214.1 378.7 215.1 384.4 216.1 390.1 217.2 395.9 218.3 401.6 219.4 407.3 220.5 413.1 221.6 418.8 222.6 424.5 223.8 430.3 225.0 436.0 226.3 441.7 227.7 447.5 229.2 453.2 230.8 458.9 232.5 464.7 234.3 470.4 236.1 476.1 238.0 481.9 240.0 487.6 241.9 493.3 243.9 499.1 245.8 504.8 247.6 510.5 249.5 516.3 251.2 522.0 252.8 527.7 254.3 533.5 255.7 539.2 256.9 544.9 258.0 550.7 259.0 556.4 259.9 562.1 260.7 567.9 261.4 573.6 262.1 579.3 262.7 585.0 263.2 590.8 263.7 596.5 264.2 602.2 264.7 608.0 265.1 613.7 265.6 619.4 266.0 625.2 266.5 630.9 266.9 636.6 267.4 642.4 267.9 648.1 268.5 653.8 269.0 659.6 269.7 665.3 270.4 671.0 271.1 676.8 271.9 682.5 272.8 688.2 273.7 694.0 274.6 699.7 275.7 705.4 276.7 711.2 277.7 716.9 278.8 722.6 279.9 728.4 281.0 734.1 282.0 739.8 283.1 745.6 284.1 751.3 285.1 757.0 286.2 762.8 287.2 768.5 288.3 774.2 289.4 780.0 290.5 785.7 291.7 791.4 293.0 797.2 294.3 802.9 295.7 808.6 297.2 814.4 298.7 820.1 300.4 825.8 302.1 831.6 303.9 837.3 305.7 843.0 307.7 848.8 309.7 854.5 311.8 860.2 314.0 866.0 316.2 871.7 318.5 877.4 320.9 883.2 323.4 888.9 325.9 894.6 328.4 900.4 331.0 906.1 333.6 911.8 336.1 917.6 338.5 923.3 340.9 929.0 343.1 934.8 345.3 940.5 347.2 946.2 349.0 952.0 350.5 957.7 351.8 963.4 352.9 969.2 353.9 974.9 354.6 980.6 355.2 986.4 355.6 992.1 355.8 997.8 356.0 1003.6 356.0 1009.3 355.9 1015.0 355.7 1020.8 355.0 1026.5 354.0 1032.2 352.3 1038.0 350.0 1043.7 347.3 1049.4 344.3 1055.1 341.3 1060.9 338.4 1066.6 335.9 1072.3 333.9 1078.1 332.4 1083.8 331.3 1089.5 330.5 1095.3 329.9 1101.0 329.3 1106.7 328.6 1112.5 327.8 1118.2 327.0 1123.9 326.0 1129.7 325.1 1135.4 324.2 1141.1 323.3 1146.9 322.6 1152.6 321.9 1158.3 321.3 1164.1 320.7 1169.8 320.2 1175.5 319.9 1181.3 319.5 1187.0 319.3 1192.7 319.1 1198.5 319.0 1204.2 318.9 1209.9 318.9 1215.7 318.9 1221.4 319.0 1227.1 319.1 1232.9 319.3 1238.6 319.4 1244.3 319.7 1250.1 319.9 1255.8 320.2 1261.5 320.4 1267.3 320.7 1273.0 321.0"/>
<path class="ln g" d="M330.0 208.4 335.8 208.9 341.7 209.5 347.5 210.0 353.3 210.6 359.2 211.2 365.0 211.8 370.8 212.4 376.7 213.0 382.5 213.6 388.3 214.2 394.2 214.7 400.0 215.3 405.8 215.9 411.7 216.5 417.5 217.1 423.3 217.8 429.2 218.6 435.0 219.4 440.8 220.3 446.7 221.4 452.5 222.5 458.3 223.8 464.2 225.1 470.0 226.5"/>
<path class="ln b" d="M499.0 230.1 504.7 229.6 510.5 229.0 516.2 228.5 521.9 227.9 527.7 227.2 533.4 226.5 539.1 225.7 544.9 224.8 550.6 223.8 556.3 222.8 562.1 221.6 567.8 220.2 573.5 218.8 579.3 217.2 585.0 215.6 590.7 213.9 596.5 212.0 602.2 210.2 607.9 208.2 613.7 206.3 619.4 204.3 625.1 202.4 630.9 200.5 636.6 198.7 642.3 196.9 648.1 195.3 653.8 193.7 659.5 192.2 665.3 190.8 671.0 189.4 676.7 187.9 682.5 186.4 688.2 184.7 693.9 182.9 699.7 181.0 705.4 179.1 711.1 177.1 716.9 175.2 722.6 173.4 728.3 171.7 734.1 170.1 739.8 168.6 745.5 167.1 751.3 165.7 757.0 164.3 762.7 162.9 768.5 161.4 774.2 159.9 779.9 158.4 785.7 156.8 791.4 155.1 797.1 153.4 802.9 151.7 808.6 150.0 814.3 148.4 820.1 146.7 825.8 145.1 831.5 143.5 837.3 142.0 843.0 140.5 848.7 139.0 854.5 137.6 860.2 136.2 865.9 134.8 871.7 133.5 877.4 132.3 883.1 131.0 888.9 129.8 894.6 128.7 900.3 127.6 906.1 126.6 911.8 125.6 917.5 124.6 923.3 123.7 929.0 122.9 934.7 122.1 940.5 121.4 946.2 120.8 951.9 120.2 957.7 119.6 963.4 119.2 969.1 118.7 974.9 118.3 980.6 118.0 986.3 117.7 992.1 117.4 997.8 117.2 1003.5 117.0 1009.3 116.8 1015.0 116.8 1020.7 116.8 1026.5 117.0 1032.2 117.3 1037.9 117.7 1043.7 118.3 1049.4 119.0 1055.1 119.7 1060.9 120.6 1066.6 121.5 1072.3 122.5 1078.1 123.5 1083.8 124.6 1089.5 125.6 1095.3 126.7 1101.0 127.8 1106.7 128.9 1112.5 129.9 1118.2 131.0 1123.9 132.1 1129.7 133.3 1135.4 134.5 1141.1 135.8 1146.9 137.2 1152.6 138.8 1158.3 140.4 1164.1 142.2 1169.8 144.1 1175.5 146.2 1181.3 148.5 1187.0 150.9 1192.7 153.6 1198.5 156.3 1204.2 159.3 1209.9 162.3 1215.7 165.5 1221.4 168.9 1227.1 172.3 1232.9 175.8 1238.6 179.5 1244.3 183.2 1250.1 187.0 1255.8 190.8 1261.5 194.7 1267.3 198.6 1273.0 202.5"/>
<path class="ln b" d="M191.0 296.9 196.7 295.1 202.4 293.3 208.2 291.5 213.9 289.7 219.6 288.0 225.3 286.2 231.1 284.5 236.8 282.8 242.5 281.1 248.2 279.5 254.0 277.9 259.7 276.3 265.4 274.7 271.1 273.2 276.9 271.8 282.6 270.3 288.3 269.0 294.0 267.6 299.8 266.3 305.5 265.0 311.2 263.7 316.9 262.4 322.7 261.1 328.4 259.7 334.1 258.2 339.8 256.7 345.6 255.1 351.3 253.4 357.0 251.5 362.7 249.6 368.5 247.6 374.2 245.7 379.9 243.8 385.6 242.0 391.4 240.4 397.1 238.9 402.8 237.6 408.5 236.3 414.3 235.1 420.0 234.0 425.7 232.9 431.4 231.7 437.2 230.6 442.9 229.5 448.6 228.3 454.3 227.0 460.1 225.6 465.8 224.2 471.5 222.6 477.2 220.9 483.0 219.1 488.7 217.2 494.4 215.1 500.1 212.9 505.9 210.7 511.6 208.4 517.3 206.1 523.0 203.8 528.8 201.7 534.5 199.7 540.2 197.9 545.9 196.4 551.7 195.1 557.4 194.0 563.1 193.0 568.8 192.2 574.6 191.6 580.3 190.9 586.0 190.4 591.7 189.8 597.5 189.3 603.2 188.7 608.9 188.2 614.6 187.5 620.4 186.9 626.1 186.1 631.8 185.3 637.5 184.4 643.3 183.4 649.0 182.3 654.7 181.2 660.4 180.1 666.2 179.0 671.9 177.9 677.6 176.9 683.3 176.1 689.1 175.4 694.8 174.9 700.5 174.7 706.2 174.6 712.0 174.7 717.7 174.9 723.4 175.3 729.1 175.7 734.9 176.2 740.6 176.7 746.3 177.2 752.0 177.7 757.8 178.2 763.5 178.7 769.2 179.2 774.9 179.7 780.7 180.2 786.4 180.8 792.1 181.3 797.8 181.8 803.6 182.3 809.3 182.8 815.0 183.4 820.7 183.9 826.5 184.4 832.2 185.0 837.9 185.5 843.6 186.1 849.4 186.6 855.1 187.2 860.8 187.8 866.5 188.4 872.3 189.0 878.0 189.7 883.7 190.3 889.4 191.0 895.2 191.6 900.9 192.3 906.6 192.9 912.3 193.5 918.1 194.0 923.8 194.4 929.5 194.8 935.2 195.0 941.0 195.2 946.7 195.3 952.4 195.3 958.1 195.2 963.9 195.1 969.6 194.9 975.3 194.8 981.0 194.6 986.8 194.4 992.5 194.2 998.2 194.0 1003.9 193.9 1009.7 193.9 1015.4 193.8 1021.1 193.8 1026.8 193.9 1032.6 193.9 1038.3 194.0 1044.0 194.1 1049.7 194.3 1055.5 194.4 1061.2 194.6 1066.9 194.8 1072.6 195.0 1078.4 195.2 1084.1 195.4 1089.8 195.6 1095.5 195.8 1101.3 196.0 1107.0 196.2 1112.7 196.5 1118.4 196.7 1124.2 196.9 1129.9 197.1 1135.6 197.4 1141.3 197.6 1147.1 197.9 1152.8 198.3 1158.5 198.7 1164.2 199.1 1170.0 199.5 1175.7 200.1 1181.4 200.6 1187.1 201.3 1192.9 202.0 1198.6 202.7 1204.3 203.5 1210.0 204.3 1215.8 205.1 1221.5 206.0 1227.2 207.0 1232.9 207.9 1238.7 208.9 1244.4 209.9 1250.1 210.9 1255.8 211.9 1261.6 212.9 1267.3 214.0 1273.0 215.0"/>
<path class="ln b" d="M145.9 328.5 151.6 327.2 157.3 325.8 163.1 324.5 168.8 323.2 174.5 321.8 180.2 320.5 185.9 319.2 191.7 317.9 197.4 316.6 203.1 315.3 208.8 314.0 214.6 312.7 220.3 311.4 226.0 310.1 231.7 308.8 237.4 307.5 243.2 306.1 248.9 304.8 254.6 303.4 260.3 301.9 266.0 300.4 271.8 299.0 277.5 297.5 283.2 296.2 288.9 294.9 294.7 293.8 300.4 292.7 306.1 291.6 311.8 290.7 317.5 289.7 323.3 288.8 329.0 287.9 334.7 286.9 340.4 286.0 346.1 285.0 351.9 283.9 357.6 282.8 363.3 281.6 369.0 280.3 374.8 278.9 380.5 277.4 386.2 275.8 391.9 274.1 397.6 272.4 403.4 270.5 409.1 268.5 414.8 266.4 420.5 264.2 426.2 261.9 432.0 259.5 437.7 257.2 443.4 254.8 449.1 252.4 454.9 250.0 460.6 247.6 466.3 245.2 472.0 242.8 477.7 240.4 483.5 237.9 489.2 235.4 494.9 232.8 500.6 230.1 506.3 227.3 512.1 224.4 517.8 221.5 523.5 218.5 529.2 215.5 534.9 212.5 540.7 209.6 546.4 206.7 552.1 204.0 557.8 201.4 563.6 198.9 569.3 196.6 575.0 194.3 580.7 192.2 586.4 190.3 592.2 188.4 597.9 186.7 603.6 185.1 609.3 183.5 615.0 182.0 620.8 180.5 626.5 179.1 632.2 177.7 637.9 176.3 643.7 174.9 649.4 173.6 655.1 172.3 660.8 171.1 666.5 170.0 672.3 168.9 678.0 168.0 683.7 167.2 689.4 166.5 695.1 165.9 700.9 165.3 706.6 164.6 712.3 163.9 718.0 162.9 723.8 161.7 729.5 160.1 735.2 158.2 740.9 155.9 746.6 153.3 752.4 150.6 758.1 147.7 763.8 144.7 769.5 141.8 775.2 138.9 781.0 136.1 786.7 133.4 792.4 130.9 798.1 128.4 803.9 126.0 809.6 123.7 815.3 121.4 821.0 119.2 826.7 117.1 832.5 115.0 838.2 113.0 843.9 111.1 849.6 109.2 855.3 107.5 861.1 106.0 866.8 104.5 872.5 103.3 878.2 102.1 884.0 101.1 889.7 100.2 895.4 99.4 901.1 98.6 906.8 98.0 912.6 97.5 918.3 97.0 924.0 96.7 929.7 96.5 935.4 96.4 941.2 96.5 946.9 96.7 952.6 97.2 958.3 97.8 964.0 98.6 969.8 99.6 975.5 100.8 981.2 102.2 986.9 103.7 992.7 105.3 998.4 107.0 1004.1 108.8 1009.8 110.7 1015.5 112.6 1021.3 114.7 1027.0 117.0 1032.7 119.5 1038.4 122.2 1044.1 125.2 1049.9 128.7 1055.6 132.6 1061.3 137.0 1067.0 141.8 1072.8 146.9 1078.5 152.1 1084.2 157.4 1089.9 162.6 1095.6 167.5 1101.4 172.0 1107.1 176.1 1112.8 180.1 1118.5 184.3 1124.2 189.3 1130.0 195.2 1135.7 201.9 1141.4 209.1 1147.1 216.4 1152.9 223.5 1158.6 230.3 1164.3 236.9 1170.0 243.4 1175.7 249.9 1181.5 256.5 1187.2 263.3 1192.9 270.5 1198.6 278.1 1204.3 286.2 1210.1 294.9 1215.8 303.8 1221.5 312.8 1227.2 321.7 1233.0 330.5 1238.7 338.9 1244.4 347.2 1250.1 355.2 1255.8 363.0 1261.6 370.7 1267.3 378.4 1273.0 386.0"/>
<path class="ln o" d="M145.9 324.1 151.8 321.0 157.6 317.9 163.5 314.7 169.3 311.3 175.2 307.8 181.0 304.0 186.9 300.0 192.7 295.7 198.6 291.3 204.5 286.9 210.3 282.8 216.2 278.9 222.0 275.3 227.9 271.8 233.7 268.5 239.6 265.2 245.4 262.0 251.3 258.7 257.2 255.6 263.0 252.5 268.9 249.5 274.7 246.8 280.6 244.4 286.4 242.4 292.3 240.9 298.2 239.8 304.0 239.0 309.9 238.3 315.7 237.7 321.6 237.0 327.4 236.2 333.3 235.2 339.1 234.1 345.0 233.2"/>
<path class="ln b" d="M145.9 266.0 151.6 267.6 157.3 269.3 163.1 270.9 168.8 272.5 174.5 274.1 180.2 275.6 185.9 277.1 191.7 278.6 197.4 280.0 203.1 281.3 208.8 282.5 214.6 283.7 220.3 284.8 226.0 285.8 231.7 286.6 237.4 287.4 243.2 288.1 248.9 288.8 254.6 289.3 260.3 289.8 266.0 290.2 271.8 290.5 277.5 290.8 283.2 291.0 288.9 291.1 294.7 291.2 300.4 291.2 306.1 291.1 311.8 290.8 317.5 290.4 323.3 289.8 329.0 289.0 334.7 288.1 340.4 286.9 346.1 285.7 351.9 284.3 357.6 282.8 363.3 281.2 369.0 279.5 374.8 277.7 380.5 275.9 386.2 274.0 391.9 272.0 397.6 270.0 403.4 268.0 409.1 266.0 414.8 263.9 420.5 261.9 426.2 259.8 432.0 257.8 437.7 255.7 443.4 253.6 449.1 251.5 454.9 249.5 460.6 247.3 466.3 245.2 472.0 243.0 477.7 240.7 483.5 238.4 489.2 235.9 494.9 233.4 500.6 230.7 506.3 227.9 512.1 225.0 517.8 222.0 523.5 219.0 529.2 216.0 534.9 213.0 540.7 210.1 546.4 207.2 552.1 204.5 557.8 201.9 563.6 199.5 569.3 197.3 575.0 195.3 580.7 193.3 586.4 191.5 592.2 189.8 597.9 188.2 603.6 186.6 609.3 185.0 615.0 183.5 620.8 181.9 626.5 180.3 632.2 178.6 637.9 176.9 643.7 175.1 649.4 173.3 655.1 171.6 660.8 169.9 666.5 168.3 672.3 166.8 678.0 165.4 683.7 164.2 689.4 163.3 695.1 162.5 700.9 161.9 706.6 161.6 712.3 161.3 718.0 161.3 723.8 161.3 729.5 161.5 735.2 161.8 740.9 162.1 746.6 162.6 752.4 163.1 758.1 163.7 763.8 164.3 769.5 165.0 775.2 165.8 781.0 166.6 786.7 167.4 792.4 168.3 798.1 169.2 803.9 170.1 809.6 171.1 815.3 172.1 821.0 173.2 826.7 174.3 832.5 175.5 838.2 176.7 843.9 178.1 849.6 179.5 855.3 181.1 861.1 182.8 866.8 184.5 872.5 186.4 878.2 188.3 884.0 190.2 889.7 192.1 895.4 194.0 901.1 195.9 906.8 197.6 912.6 199.3 918.3 200.9 924.0 202.5 929.7 203.9 935.4 205.3 941.2 206.6 946.9 207.8 952.6 209.0 958.3 210.2 964.0 211.3 969.8 212.3 975.5 213.4 981.2 214.3 986.9 215.3 992.7 216.2 998.4 217.0 1004.1 217.8 1009.8 218.4 1015.5 219.0 1021.3 219.6 1027.0 220.0 1032.7 220.3 1038.4 220.6 1044.1 220.7 1049.9 220.8 1055.6 220.8 1061.3 220.8 1067.0 220.6 1072.8 220.5 1078.5 220.3 1084.2 220.0 1089.9 219.6 1095.6 219.2 1101.4 218.6 1107.1 217.9 1112.8 217.1 1118.5 216.1 1124.2 215.0 1130.0 213.6 1135.7 212.1 1141.4 210.4 1147.1 208.5 1152.9 206.4 1158.6 204.1 1164.3 201.5 1170.0 198.8 1175.7 195.9 1181.5 192.8 1187.2 189.6 1192.9 186.3 1198.6 182.8 1204.3 179.2 1210.1 175.5 1215.8 171.7 1221.5 167.9 1227.2 164.0 1233.0 160.0 1238.7 155.9 1244.4 151.9 1250.1 147.7 1255.8 143.6 1261.6 139.4 1267.3 135.2 1273.0 131.0"/>
<path class="ln b" d="M145.9 246.0 151.6 245.5 157.3 245.0 163.1 244.5 168.8 244.0 174.5 243.5 180.2 243.0 185.9 242.5 191.7 242.1 197.4 241.6 203.1 241.1 208.8 240.6 214.6 240.2 220.3 239.7 226.0 239.2 231.7 238.8 237.4 238.3 243.2 237.9 248.9 237.5 254.6 237.0 260.3 236.6 266.0 236.2 271.8 235.8 277.5 235.4 283.2 235.1 288.9 234.7 294.7 234.3 300.4 234.0 306.1 233.7 311.8 233.3 317.5 233.0 323.3 232.8 329.0 232.5 334.7 232.2 340.4 232.0 346.1 231.8 351.9 231.6 357.6 231.4 363.3 231.3 369.0 231.2 374.8 231.1 380.5 231.0 386.2 231.0 391.9 231.0 397.6 231.0 403.4 231.0 409.1 231.0 414.8 231.1 420.5 231.1 426.2 231.2 432.0 231.2 437.7 231.2 443.4 231.3 449.1 231.3 454.9 231.2 460.6 231.2 466.3 231.1 472.0 231.0 477.7 230.8 483.5 230.6 489.2 230.3 494.9 230.0 500.6 229.7 506.3 229.3 512.1 228.9 517.8 228.4 523.5 227.8 529.2 227.2 534.9 226.6 540.7 225.9 546.4 225.2 552.1 224.4 557.8 223.5 563.6 222.6 569.3 221.7 575.0 220.7 580.7 219.7 586.4 218.6 592.2 217.6 597.9 216.4 603.6 215.3 609.3 214.1 615.0 212.9 620.8 211.8 626.5 210.7 632.2 209.7 637.9 208.8 643.7 208.0 649.4 207.4 655.1 206.9 660.8 206.5 666.5 206.2 672.3 206.0 678.0 205.8 683.7 205.6 689.4 205.4 695.1 205.2 700.9 205.0 706.6 204.7 712.3 204.3 718.0 203.9 723.8 203.3 729.5 202.7 735.2 202.1 740.9 201.3 746.6 200.4 752.4 199.5 758.1 198.5 763.8 197.6 769.5 196.7 775.2 195.8 781.0 195.0 786.7 194.2 792.4 193.4 798.1 192.4 803.9 191.2 809.6 189.8 815.3 188.2 821.0 186.5 826.7 184.7 832.5 182.7 838.2 180.7 843.9 178.6 849.6 176.4 855.3 174.3 861.1 172.1 866.8 170.0 872.5 167.9 878.2 165.9 884.0 164.0 889.7 162.3 895.4 160.6 901.1 159.0 906.8 157.4 912.6 155.9 918.3 154.5 924.0 153.1 929.7 151.8 935.4 150.4 941.2 149.0 946.9 147.7 952.6 146.4 958.3 145.0 964.0 143.7 969.8 142.4 975.5 141.2 981.2 139.9 986.9 138.7 992.7 137.5 998.4 136.3 1004.1 135.2 1009.8 134.1 1015.5 133.1 1021.3 132.1 1027.0 131.1 1032.7 130.3 1038.4 129.4 1044.1 128.7 1049.9 128.0 1055.6 127.4 1061.3 126.9 1067.0 126.4 1072.8 126.1 1078.5 125.7 1084.2 125.5 1089.9 125.3 1095.6 125.1 1101.4 125.0 1107.1 124.9 1112.8 124.9 1118.5 124.8 1124.2 124.9 1130.0 124.9 1135.7 125.0 1141.4 125.1 1147.1 125.2 1152.9 125.4 1158.6 125.5 1164.3 125.7 1170.0 125.8 1175.7 126.0 1181.5 126.2 1187.2 126.4 1192.9 126.6 1198.6 126.8 1204.3 127.0 1210.1 127.2 1215.8 127.4 1221.5 127.6 1227.2 127.8 1233.0 128.0 1238.7 128.2 1244.4 128.4 1250.1 128.6 1255.8 128.9 1261.6 129.1 1267.3 129.3 1273.0 129.5"/>
<path class="ln b" d="M145.9 246.0 151.6 245.5 157.3 245.0 163.1 244.5 168.8 244.0 174.5 243.5 180.2 243.0 185.9 242.5 191.7 242.0 197.4 241.5 203.1 241.0 208.8 240.6 214.6 240.1 220.3 239.6 226.0 239.2 231.7 238.7 237.4 238.3 243.2 237.8 248.9 237.4 254.6 237.0 260.3 236.6 266.0 236.2 271.8 235.8 277.5 235.4 283.2 235.0 288.9 234.7 294.7 234.4 300.4 234.0 306.1 233.7 311.8 233.4 317.5 233.1 323.3 232.9 329.0 232.6 334.7 232.4 340.4 232.1 346.1 231.9 351.9 231.7 357.6 231.6 363.3 231.4 369.0 231.3 374.8 231.2 380.5 231.1 386.2 231.0 391.9 230.9 397.6 230.9 403.4 230.8 409.1 230.8 414.8 230.8 420.5 230.8 426.2 230.8 432.0 230.8 437.7 230.9 443.4 230.9 449.1 230.9 454.9 230.9 460.6 231.0 466.3 231.0 472.0 231.0 477.7 231.0 483.5 231.0 489.2 231.0 494.9 230.9 500.6 230.8 506.3 230.7 512.1 230.6 517.8 230.3 523.5 230.1 529.2 229.8 534.9 229.5 540.7 229.2 546.4 228.9 552.1 228.6 557.8 228.2 563.6 227.9 569.3 227.5 575.0 227.2 580.7 226.9 586.4 226.6 592.2 226.3 597.9 226.0 603.6 225.6 609.3 225.2 615.0 224.8 620.8 224.3 626.5 223.7 632.2 223.0 637.9 222.1 643.7 221.2 649.4 220.1 655.1 219.0 660.8 217.8 666.5 216.5 672.3 215.4 678.0 214.2 683.7 213.1 689.4 212.1 695.1 211.1 700.9 210.2 706.6 209.3 712.3 208.4 718.0 207.6 723.8 206.8 729.5 206.1 735.2 205.3 740.9 204.6 746.6 204.0 752.4 203.3 758.1 202.7 763.8 202.1 769.5 201.5 775.2 201.0 781.0 200.4 786.7 200.0 792.4 199.5 798.1 199.1 803.9 198.8 809.6 198.4 815.3 198.2 821.0 197.9 826.7 197.7 832.5 197.5 838.2 197.4 843.9 197.2 849.6 197.1 855.3 197.0 861.1 197.0 866.8 197.0 872.5 196.9 878.2 196.9 884.0 196.9 889.7 196.9 895.4 197.0 901.1 197.0 906.8 197.0 912.6 197.1 918.3 197.1 924.0 197.2 929.7 197.2 935.4 197.3 941.2 197.4 946.9 197.4 952.6 197.5 958.3 197.5 964.0 197.6 969.8 197.7 975.5 197.7 981.2 197.8 986.9 197.9 992.7 197.9 998.4 198.0 1004.1 198.0 1009.8 198.1 1015.5 198.2 1021.3 198.2 1027.0 198.3 1032.7 198.4 1038.4 198.5 1044.1 198.6 1049.9 198.7 1055.6 198.8 1061.3 199.0 1067.0 199.2 1072.8 199.4 1078.5 199.7 1084.2 200.0 1089.9 200.3 1095.6 200.7 1101.4 201.1 1107.1 201.6 1112.8 202.1 1118.5 202.7 1124.2 203.3 1130.0 204.1 1135.7 204.9 1141.4 205.9 1147.1 206.9 1152.9 208.1 1158.6 209.5 1164.3 211.1 1170.0 213.0 1175.7 215.3 1181.5 218.1 1187.2 221.3 1192.9 225.0 1198.6 229.0 1204.3 233.4 1210.1 238.1 1215.8 243.3 1221.5 248.9 1227.2 254.9 1233.0 261.4 1238.7 268.6 1244.4 276.5 1250.1 285.2 1255.8 294.8 1261.6 305.1 1267.3 316.0 1273.0 327.0"/>
<path class="ln o" d="M1256.0 307.8 1261.7 300.7 1267.3 293.4 1273.0 286.0"/>
</g>
<g id="axes" stroke="#000" stroke-width="2.85" fill="none">
<path d="M90 62V876"/><path d="M88.6 874.6H1329"/>
<path d="M82.7 109.3H90M82.7 290.2H90M82.7 471.1H90M82.7 652.1H90M82.7 833H90"/>
<path d="M134.5 874.6V881.9M419.1 874.6V881.9M703.8 874.6V881.9M988.4 874.6V881.9M1273 874.6V881.9"/>
</g>
<g class="tk" text-anchor="end">
<text x="76" y="118.2">2</text><text x="76" y="299">0</text><text x="76" y="479.9">-2</text><text x="76" y="660.8">-4</text><text x="76" y="841.7">-6</text>
</g>
<g class="tk" text-anchor="middle">
<text x="134.5" y="904.5">0</text><text x="419.1" y="904.5">25</text><text x="703.8" y="904.5">50</text><text x="988.4" y="904.5">75</text><text x="1273" y="904.5">100</text>
</g>
<text class="ax" x="709.5" y="938.6" text-anchor="middle">Pseudotime</text>
<text class="ax" transform="translate(35.8 467.5) rotate(-90)" text-anchor="middle">Normalized expression</text>
</svg>
</body></html>
